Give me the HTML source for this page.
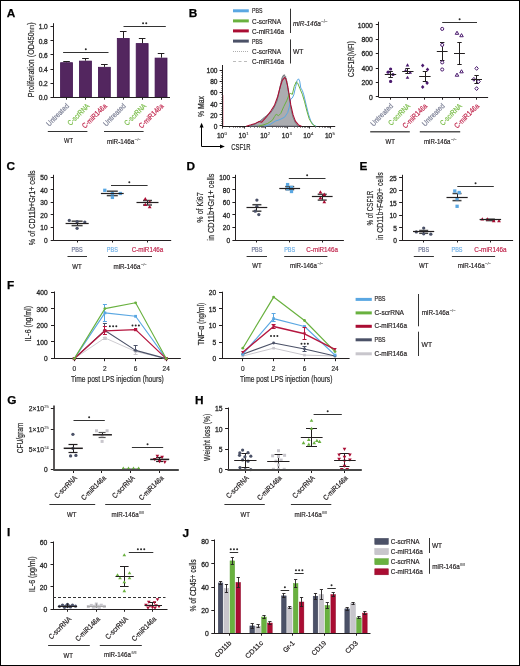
<!DOCTYPE html>
<html><head><meta charset="utf-8"><style>
html,body{margin:0;padding:0;background:#fff;}
#fig{position:relative;width:520px;height:666px;box-sizing:border-box;border:1px solid #000;overflow:hidden;background:#fff;}
svg{position:absolute;left:-1px;top:-1px;will-change:transform;}
text{font-family:"Liberation Sans", sans-serif;}
</style></head><body><div id="fig">
<svg width="520" height="666" viewBox="0 0 520 666" font-family="Liberation Sans, sans-serif">
<text x="6.71" y="16.9" font-size="11.8" fill="#000" font-weight="bold" stroke="#000" stroke-width="0.25">A</text>
<line x1="53.5" y1="23.2" x2="53.5" y2="97.5" stroke="#231f20" stroke-width="1" />
<line x1="50.5" y1="26.5" x2="53.5" y2="26.5" stroke="#231f20" stroke-width="1" />
<text x="47.8" y="29.38" font-size="6.6" fill="#2a2a2a" text-anchor="end" stroke="#2a2a2a" stroke-width="0.3" >1.0</text>
<line x1="50.5" y1="40.5" x2="53.5" y2="40.5" stroke="#231f20" stroke-width="1" />
<text x="47.8" y="43.58" font-size="6.6" fill="#2a2a2a" text-anchor="end" stroke="#2a2a2a" stroke-width="0.3" >0.8</text>
<line x1="50.5" y1="54.5" x2="53.5" y2="54.5" stroke="#231f20" stroke-width="1" />
<text x="47.8" y="57.78" font-size="6.6" fill="#2a2a2a" text-anchor="end" stroke="#2a2a2a" stroke-width="0.3" >0.6</text>
<line x1="50.5" y1="69.5" x2="53.5" y2="69.5" stroke="#231f20" stroke-width="1" />
<text x="47.8" y="71.98" font-size="6.6" fill="#2a2a2a" text-anchor="end" stroke="#2a2a2a" stroke-width="0.3" >0.4</text>
<line x1="50.5" y1="83.5" x2="53.5" y2="83.5" stroke="#231f20" stroke-width="1" />
<text x="47.8" y="86.18" font-size="6.6" fill="#2a2a2a" text-anchor="end" stroke="#2a2a2a" stroke-width="0.3" >0.2</text>
<line x1="50.5" y1="97.5" x2="53.5" y2="97.5" stroke="#231f20" stroke-width="1" />
<text x="47.8" y="100.38" font-size="6.6" fill="#2a2a2a" text-anchor="end" stroke="#2a2a2a" stroke-width="0.3" >0.0</text>
<text x="33.5" y="59.75" font-size="8.5" fill="#2a2a2a" text-anchor="middle" textLength="74.8" lengthAdjust="spacingAndGlyphs" transform="rotate(-90 33.5 59.75)" stroke="#2a2a2a" stroke-width="0.2" >Proliferation (OD450<tspan font-size="6.5" fill="#999">nm</tspan>)</text>
<rect x="60.6" y="62.7" width="11.9" height="34.5" fill="#53265f" stroke="#431552" stroke-width="0.8"/>
<line x1="66.5" y1="61.2" x2="66.5" y2="62.3" stroke="#231f20" stroke-width="1" />
<line x1="63.25" y1="61.5" x2="69.85" y2="61.5" stroke="#231f20" stroke-width="1" />
<rect x="79.5" y="61.1" width="11.9" height="36.1" fill="#53265f" stroke="#431552" stroke-width="0.8"/>
<line x1="85.5" y1="58.4" x2="85.5" y2="60.7" stroke="#231f20" stroke-width="1" />
<line x1="82.15" y1="58.5" x2="88.75" y2="58.5" stroke="#231f20" stroke-width="1" />
<rect x="98.4" y="67.3" width="11.9" height="29.9" fill="#53265f" stroke="#431552" stroke-width="0.8"/>
<line x1="104.5" y1="64.6" x2="104.5" y2="66.9" stroke="#231f20" stroke-width="1" />
<line x1="101.05" y1="64.5" x2="107.65" y2="64.5" stroke="#231f20" stroke-width="1" />
<rect x="117.3" y="38.5" width="11.9" height="58.7" fill="#53265f" stroke="#431552" stroke-width="0.8"/>
<line x1="123.5" y1="31.6" x2="123.5" y2="38.1" stroke="#231f20" stroke-width="1" />
<line x1="119.95" y1="31.5" x2="126.55" y2="31.5" stroke="#231f20" stroke-width="1" />
<rect x="136.2" y="43.6" width="11.9" height="53.6" fill="#53265f" stroke="#431552" stroke-width="0.8"/>
<line x1="142.5" y1="38.1" x2="142.5" y2="43.2" stroke="#231f20" stroke-width="1" />
<line x1="138.85" y1="38.5" x2="145.45" y2="38.5" stroke="#231f20" stroke-width="1" />
<rect x="155.1" y="58.1" width="11.9" height="39.1" fill="#53265f" stroke="#431552" stroke-width="0.8"/>
<line x1="161.5" y1="53.1" x2="161.5" y2="57.7" stroke="#231f20" stroke-width="1" />
<line x1="157.75" y1="53.5" x2="164.35" y2="53.5" stroke="#231f20" stroke-width="1" />
<line x1="53" y1="97.5" x2="170" y2="97.5" stroke="#231f20" stroke-width="1" />
<line x1="66.5" y1="97.2" x2="66.5" y2="99.7" stroke="#231f20" stroke-width="1" />
<line x1="85.5" y1="97.2" x2="85.5" y2="99.7" stroke="#231f20" stroke-width="1" />
<line x1="104.5" y1="97.2" x2="104.5" y2="99.7" stroke="#231f20" stroke-width="1" />
<line x1="123.5" y1="97.2" x2="123.5" y2="99.7" stroke="#231f20" stroke-width="1" />
<line x1="142.5" y1="97.2" x2="142.5" y2="99.7" stroke="#231f20" stroke-width="1" />
<line x1="161.5" y1="97.2" x2="161.5" y2="99.7" stroke="#231f20" stroke-width="1" />
<line x1="63.1" y1="52.5" x2="108.5" y2="52.5" stroke="#333" stroke-width="1" />
<circle cx="85.8" cy="49.2" r="1" fill="#2a2a2a"/>
<line x1="123.5" y1="26.5" x2="165.8" y2="26.5" stroke="#333" stroke-width="1" />
<circle cx="143.05" cy="23.2" r="1" fill="#2a2a2a"/>
<circle cx="146.25" cy="23.2" r="1" fill="#2a2a2a"/>
<text x="69.5" y="106.5" font-size="7.5" fill="#7d8196" text-anchor="end" textLength="28.5" lengthAdjust="spacingAndGlyphs" transform="rotate(-45 69.5 106.5)" stroke="#7d8196" stroke-width="0.2" >Untreated</text>
<text x="89.9" y="106.5" font-size="7.5" fill="#7abd4a" text-anchor="end" textLength="27.5" lengthAdjust="spacingAndGlyphs" transform="rotate(-45 89.9 106.5)" stroke="#7abd4a" stroke-width="0.2" >C-scrRNA</text>
<text x="107.4" y="106.5" font-size="7.5" fill="#c22a50" text-anchor="end" textLength="31.5" lengthAdjust="spacingAndGlyphs" transform="rotate(-45 107.4 106.5)" stroke="#c22a50" stroke-width="0.2" >C-miR146a</text>
<text x="126.3" y="106.5" font-size="7.5" fill="#7d8196" text-anchor="end" textLength="28.5" lengthAdjust="spacingAndGlyphs" transform="rotate(-45 126.3 106.5)" stroke="#7d8196" stroke-width="0.2" >Untreated</text>
<text x="146.7" y="106.5" font-size="7.5" fill="#7abd4a" text-anchor="end" textLength="27.5" lengthAdjust="spacingAndGlyphs" transform="rotate(-45 146.7 106.5)" stroke="#7abd4a" stroke-width="0.2" >C-scrRNA</text>
<text x="164.1" y="106.5" font-size="7.5" fill="#c22a50" text-anchor="end" textLength="31.5" lengthAdjust="spacingAndGlyphs" transform="rotate(-45 164.1 106.5)" stroke="#c22a50" stroke-width="0.2" >C-miR146a</text>
<line x1="47.8" y1="131.5" x2="87.4" y2="131.5" stroke="#333" stroke-width="1" />
<line x1="104" y1="131.5" x2="143.6" y2="131.5" stroke="#333" stroke-width="1" />
<text x="68.5" y="143.3" font-size="7.5" fill="#231f20" text-anchor="middle" textLength="9" lengthAdjust="spacingAndGlyphs" stroke="#231f20" stroke-width="0.2" >WT</text>
<text x="106.9" y="143.7" font-size="7.5" fill="#231f20" textLength="27.5" lengthAdjust="spacingAndGlyphs" stroke="#231f20" stroke-width="0.2" >miR-146a</text>
<text x="134.8" y="140.7" font-size="4" fill="#777" stroke="#777" stroke-width="0.2" >−/−</text>
<text x="188.71" y="17.2" font-size="11.8" fill="#000" font-weight="bold" stroke="#000" stroke-width="0.25">B</text>
<line x1="233" y1="10.8" x2="248.8" y2="10.8" stroke="#5aa7e2" stroke-width="3" />
<line x1="233" y1="20.9" x2="248.8" y2="20.9" stroke="#69b13f" stroke-width="3" />
<line x1="233" y1="30.9" x2="248.8" y2="30.9" stroke="#aa0d33" stroke-width="3" />
<line x1="233" y1="41.1" x2="248.8" y2="41.1" stroke="#4b5167" stroke-width="3" />
<line x1="233" y1="51.5" x2="248.8" y2="51.5" stroke="#999" stroke-width="0.8" stroke-dasharray="1,1"/>
<line x1="233" y1="61.5" x2="248.8" y2="61.5" stroke="#aaa" stroke-width="0.8" stroke-dasharray="3,2.5"/>
<text x="252" y="13.4" font-size="7.5" fill="#231f20" textLength="10.5" lengthAdjust="spacingAndGlyphs" stroke="#231f20" stroke-width="0.2" >PBS</text>
<text x="252" y="23.5" font-size="7.5" fill="#231f20" textLength="29" lengthAdjust="spacingAndGlyphs" stroke="#231f20" stroke-width="0.2" >C-scrRNA</text>
<text x="252" y="33.5" font-size="7.5" fill="#231f20" textLength="32" lengthAdjust="spacingAndGlyphs" stroke="#231f20" stroke-width="0.2" >C-miR146a</text>
<text x="252" y="43.7" font-size="7.5" fill="#231f20" textLength="10.5" lengthAdjust="spacingAndGlyphs" stroke="#231f20" stroke-width="0.2" >PBS</text>
<text x="252" y="53.8" font-size="7.5" fill="#231f20" textLength="29" lengthAdjust="spacingAndGlyphs" stroke="#231f20" stroke-width="0.2" >C-scrRNA</text>
<text x="252" y="63.8" font-size="7.5" fill="#231f20" textLength="32" lengthAdjust="spacingAndGlyphs" stroke="#231f20" stroke-width="0.2" >C-miR146a</text>
<line x1="290.5" y1="8.7" x2="290.5" y2="33" stroke="#333" stroke-width="1" />
<line x1="290.5" y1="39.4" x2="290.5" y2="63.5" stroke="#333" stroke-width="1" />
<text x="293" y="25.8" font-size="7.5" fill="#231f20" textLength="27.8" lengthAdjust="spacingAndGlyphs" font-style="italic" stroke="#231f20" stroke-width="0.2" >miR-146a</text>
<text x="321.2" y="22.8" font-size="4.5" fill="#777" stroke="#777" stroke-width="0.2" >−/−</text>
<text x="293" y="53.6" font-size="7.5" fill="#231f20" textLength="10.5" lengthAdjust="spacingAndGlyphs" stroke="#231f20" stroke-width="0.2" >WT</text>
<line x1="222.5" y1="65" x2="222.5" y2="126.3" stroke="#231f20" stroke-width="1" />
<line x1="219.6" y1="70.5" x2="222.6" y2="70.5" stroke="#231f20" stroke-width="1" />
<text x="217.5" y="73.48" font-size="6.6" fill="#2a2a2a" text-anchor="end" stroke="#2a2a2a" stroke-width="0.3" >100</text>
<line x1="219.6" y1="81.5" x2="222.6" y2="81.5" stroke="#231f20" stroke-width="1" />
<text x="217.5" y="84.38" font-size="6.6" fill="#2a2a2a" text-anchor="end" stroke="#2a2a2a" stroke-width="0.3" >80</text>
<line x1="219.6" y1="92.5" x2="222.6" y2="92.5" stroke="#231f20" stroke-width="1" />
<text x="217.5" y="95.48" font-size="6.6" fill="#2a2a2a" text-anchor="end" stroke="#2a2a2a" stroke-width="0.3" >60</text>
<line x1="219.6" y1="103.5" x2="222.6" y2="103.5" stroke="#231f20" stroke-width="1" />
<text x="217.5" y="106.68" font-size="6.6" fill="#2a2a2a" text-anchor="end" stroke="#2a2a2a" stroke-width="0.3" >40</text>
<line x1="219.6" y1="114.5" x2="222.6" y2="114.5" stroke="#231f20" stroke-width="1" />
<text x="217.5" y="117.78" font-size="6.6" fill="#2a2a2a" text-anchor="end" stroke="#2a2a2a" stroke-width="0.3" >20</text>
<line x1="219.6" y1="125.5" x2="222.6" y2="125.5" stroke="#231f20" stroke-width="1" />
<text x="217.5" y="128.78" font-size="6.6" fill="#2a2a2a" text-anchor="end" stroke="#2a2a2a" stroke-width="0.3" >0</text>
<line x1="221.2" y1="125.5" x2="222.6" y2="125.5" stroke="#231f20" stroke-width="0.6" />
<line x1="221.2" y1="123.5" x2="222.6" y2="123.5" stroke="#231f20" stroke-width="0.6" />
<line x1="221.2" y1="121.5" x2="222.6" y2="121.5" stroke="#231f20" stroke-width="0.6" />
<line x1="221.2" y1="119.5" x2="222.6" y2="119.5" stroke="#231f20" stroke-width="0.6" />
<line x1="221.2" y1="117.5" x2="222.6" y2="117.5" stroke="#231f20" stroke-width="0.6" />
<line x1="221.2" y1="114.5" x2="222.6" y2="114.5" stroke="#231f20" stroke-width="0.6" />
<line x1="221.2" y1="112.5" x2="222.6" y2="112.5" stroke="#231f20" stroke-width="0.6" />
<line x1="221.2" y1="110.5" x2="222.6" y2="110.5" stroke="#231f20" stroke-width="0.6" />
<line x1="221.2" y1="108.5" x2="222.6" y2="108.5" stroke="#231f20" stroke-width="0.6" />
<line x1="221.2" y1="106.5" x2="222.6" y2="106.5" stroke="#231f20" stroke-width="0.6" />
<line x1="221.2" y1="103.5" x2="222.6" y2="103.5" stroke="#231f20" stroke-width="0.6" />
<line x1="221.2" y1="101.5" x2="222.6" y2="101.5" stroke="#231f20" stroke-width="0.6" />
<line x1="221.2" y1="99.5" x2="222.6" y2="99.5" stroke="#231f20" stroke-width="0.6" />
<line x1="221.2" y1="97.5" x2="222.6" y2="97.5" stroke="#231f20" stroke-width="0.6" />
<line x1="221.2" y1="94.5" x2="222.6" y2="94.5" stroke="#231f20" stroke-width="0.6" />
<line x1="221.2" y1="92.5" x2="222.6" y2="92.5" stroke="#231f20" stroke-width="0.6" />
<line x1="221.2" y1="90.5" x2="222.6" y2="90.5" stroke="#231f20" stroke-width="0.6" />
<line x1="221.2" y1="88.5" x2="222.6" y2="88.5" stroke="#231f20" stroke-width="0.6" />
<line x1="221.2" y1="86.5" x2="222.6" y2="86.5" stroke="#231f20" stroke-width="0.6" />
<line x1="221.2" y1="83.5" x2="222.6" y2="83.5" stroke="#231f20" stroke-width="0.6" />
<line x1="221.2" y1="81.5" x2="222.6" y2="81.5" stroke="#231f20" stroke-width="0.6" />
<line x1="221.2" y1="79.5" x2="222.6" y2="79.5" stroke="#231f20" stroke-width="0.6" />
<line x1="221.2" y1="77.5" x2="222.6" y2="77.5" stroke="#231f20" stroke-width="0.6" />
<line x1="221.2" y1="75.5" x2="222.6" y2="75.5" stroke="#231f20" stroke-width="0.6" />
<line x1="221.2" y1="72.5" x2="222.6" y2="72.5" stroke="#231f20" stroke-width="0.6" />
<line x1="221.2" y1="70.5" x2="222.6" y2="70.5" stroke="#231f20" stroke-width="0.6" />
<line x1="222" y1="126.5" x2="335.2" y2="126.5" stroke="#231f20" stroke-width="1" />
<line x1="222.5" y1="126.3" x2="222.5" y2="128.6" stroke="#231f20" stroke-width="0.9" />
<text x="224.3" y="137.6" font-size="6.6" fill="#2a2a2a" text-anchor="end" stroke="#2a2a2a" stroke-width="0.3" >10</text>
<text x="224.6" y="134.6" font-size="4.2" fill="#444" stroke="#444" stroke-width="0.15" >0</text>
<line x1="229.5" y1="126.3" x2="229.5" y2="127.8" stroke="#231f20" stroke-width="0.6" />
<line x1="233.5" y1="126.3" x2="233.5" y2="127.8" stroke="#231f20" stroke-width="0.6" />
<line x1="235.5" y1="126.3" x2="235.5" y2="127.8" stroke="#231f20" stroke-width="0.6" />
<line x1="237.5" y1="126.3" x2="237.5" y2="127.8" stroke="#231f20" stroke-width="0.6" />
<line x1="239.5" y1="126.3" x2="239.5" y2="127.8" stroke="#231f20" stroke-width="0.6" />
<line x1="240.5" y1="126.3" x2="240.5" y2="127.8" stroke="#231f20" stroke-width="0.6" />
<line x1="242.5" y1="126.3" x2="242.5" y2="127.8" stroke="#231f20" stroke-width="0.6" />
<line x1="243.5" y1="126.3" x2="243.5" y2="127.8" stroke="#231f20" stroke-width="0.6" />
<line x1="244.5" y1="126.3" x2="244.5" y2="128.6" stroke="#231f20" stroke-width="0.9" />
<text x="245.9" y="137.6" font-size="6.6" fill="#2a2a2a" text-anchor="end" stroke="#2a2a2a" stroke-width="0.3" >10</text>
<text x="246.2" y="134.6" font-size="4.2" fill="#444" stroke="#444" stroke-width="0.15" >1</text>
<line x1="250.5" y1="126.3" x2="250.5" y2="127.8" stroke="#231f20" stroke-width="0.6" />
<line x1="254.5" y1="126.3" x2="254.5" y2="127.8" stroke="#231f20" stroke-width="0.6" />
<line x1="257.5" y1="126.3" x2="257.5" y2="127.8" stroke="#231f20" stroke-width="0.6" />
<line x1="259.5" y1="126.3" x2="259.5" y2="127.8" stroke="#231f20" stroke-width="0.6" />
<line x1="261.5" y1="126.3" x2="261.5" y2="127.8" stroke="#231f20" stroke-width="0.6" />
<line x1="262.5" y1="126.3" x2="262.5" y2="127.8" stroke="#231f20" stroke-width="0.6" />
<line x1="263.5" y1="126.3" x2="263.5" y2="127.8" stroke="#231f20" stroke-width="0.6" />
<line x1="264.5" y1="126.3" x2="264.5" y2="127.8" stroke="#231f20" stroke-width="0.6" />
<line x1="265.5" y1="126.3" x2="265.5" y2="128.6" stroke="#231f20" stroke-width="0.9" />
<text x="267.5" y="137.6" font-size="6.6" fill="#2a2a2a" text-anchor="end" stroke="#2a2a2a" stroke-width="0.3" >10</text>
<text x="267.8" y="134.6" font-size="4.2" fill="#444" stroke="#444" stroke-width="0.15" >2</text>
<line x1="272.5" y1="126.3" x2="272.5" y2="127.8" stroke="#231f20" stroke-width="0.6" />
<line x1="276.5" y1="126.3" x2="276.5" y2="127.8" stroke="#231f20" stroke-width="0.6" />
<line x1="278.5" y1="126.3" x2="278.5" y2="127.8" stroke="#231f20" stroke-width="0.6" />
<line x1="280.5" y1="126.3" x2="280.5" y2="127.8" stroke="#231f20" stroke-width="0.6" />
<line x1="282.5" y1="126.3" x2="282.5" y2="127.8" stroke="#231f20" stroke-width="0.6" />
<line x1="284.5" y1="126.3" x2="284.5" y2="127.8" stroke="#231f20" stroke-width="0.6" />
<line x1="285.5" y1="126.3" x2="285.5" y2="127.8" stroke="#231f20" stroke-width="0.6" />
<line x1="286.5" y1="126.3" x2="286.5" y2="127.8" stroke="#231f20" stroke-width="0.6" />
<line x1="287.5" y1="126.3" x2="287.5" y2="128.6" stroke="#231f20" stroke-width="0.9" />
<text x="289.1" y="137.6" font-size="6.6" fill="#2a2a2a" text-anchor="end" stroke="#2a2a2a" stroke-width="0.3" >10</text>
<text x="289.4" y="134.6" font-size="4.2" fill="#444" stroke="#444" stroke-width="0.15" >3</text>
<line x1="294.5" y1="126.3" x2="294.5" y2="127.8" stroke="#231f20" stroke-width="0.6" />
<line x1="297.5" y1="126.3" x2="297.5" y2="127.8" stroke="#231f20" stroke-width="0.6" />
<line x1="300.5" y1="126.3" x2="300.5" y2="127.8" stroke="#231f20" stroke-width="0.6" />
<line x1="302.5" y1="126.3" x2="302.5" y2="127.8" stroke="#231f20" stroke-width="0.6" />
<line x1="304.5" y1="126.3" x2="304.5" y2="127.8" stroke="#231f20" stroke-width="0.6" />
<line x1="305.5" y1="126.3" x2="305.5" y2="127.8" stroke="#231f20" stroke-width="0.6" />
<line x1="307.5" y1="126.3" x2="307.5" y2="127.8" stroke="#231f20" stroke-width="0.6" />
<line x1="308.5" y1="126.3" x2="308.5" y2="127.8" stroke="#231f20" stroke-width="0.6" />
<line x1="309.5" y1="126.3" x2="309.5" y2="128.6" stroke="#231f20" stroke-width="0.9" />
<text x="310.7" y="137.6" font-size="6.6" fill="#2a2a2a" text-anchor="end" stroke="#2a2a2a" stroke-width="0.3" >10</text>
<text x="311" y="134.6" font-size="4.2" fill="#444" stroke="#444" stroke-width="0.15" >4</text>
<line x1="315.5" y1="126.3" x2="315.5" y2="127.8" stroke="#231f20" stroke-width="0.6" />
<line x1="319.5" y1="126.3" x2="319.5" y2="127.8" stroke="#231f20" stroke-width="0.6" />
<line x1="322.5" y1="126.3" x2="322.5" y2="127.8" stroke="#231f20" stroke-width="0.6" />
<line x1="324.5" y1="126.3" x2="324.5" y2="127.8" stroke="#231f20" stroke-width="0.6" />
<line x1="325.5" y1="126.3" x2="325.5" y2="127.8" stroke="#231f20" stroke-width="0.6" />
<line x1="327.5" y1="126.3" x2="327.5" y2="127.8" stroke="#231f20" stroke-width="0.6" />
<line x1="328.5" y1="126.3" x2="328.5" y2="127.8" stroke="#231f20" stroke-width="0.6" />
<line x1="329.5" y1="126.3" x2="329.5" y2="127.8" stroke="#231f20" stroke-width="0.6" />
<line x1="330.5" y1="126.3" x2="330.5" y2="128.6" stroke="#231f20" stroke-width="0.9" />
<text x="332.3" y="137.6" font-size="6.6" fill="#2a2a2a" text-anchor="end" stroke="#2a2a2a" stroke-width="0.3" >10</text>
<text x="332.6" y="134.6" font-size="4.2" fill="#444" stroke="#444" stroke-width="0.15" >5</text>
<text x="203.8" y="106.45" font-size="8.5" fill="#2a2a2a" text-anchor="middle" textLength="21" lengthAdjust="spacingAndGlyphs" transform="rotate(-90 203.8 106.45)" stroke="#2a2a2a" stroke-width="0.2" >% Max</text>
<line x1="201.5" y1="146.5" x2="201.5" y2="126.5" stroke="#000" stroke-width="1" />
<polygon points="201.6,122.8 199.6,127.6 203.6,127.6" fill="#000"/>
<line x1="201.6" y1="146.5" x2="221" y2="146.5" stroke="#000" stroke-width="1" />
<polygon points="224.8,146.5 220,144.5 220,148.5" fill="#000"/>
<text x="231.2" y="149.6" font-size="8.5" fill="#2a2a2a" textLength="19.4" lengthAdjust="spacingAndGlyphs" stroke="#2a2a2a" stroke-width="0.2" >CSF1R</text>
<path d="M249.2,126.2 L255,124 L260,121.1 L264.6,117.2 L270.8,112.6 L273.8,108 L276.9,101.1 L279.2,91.1 L280.8,83.4 L282.3,77.2 L283.8,74.9 L285.4,76.5 L286.9,81.8 L288.5,92.6 L290,103.4 L291.5,111.1 L293.1,117.2 L295.4,122.6 L298.5,126.2 Z" fill="#abacb0" stroke="#555a66" stroke-width="0.8" stroke-linejoin="round"/>
<polyline points="250,126.2 256,123.5 261,120.5 266,116 271,111.5 274.5,106 277.5,99 279.8,89 281.5,80 283,75.5 284.8,74.5 286.2,77.5 287.6,85 289.2,97 290.8,107.5 292.5,115 294.5,121 297.5,126.2" stroke="#888" stroke-width="0.7" fill="none" stroke-linejoin="round" stroke-dasharray="1.5,1"/>
<polyline points="264.6,126.2 270,124.5 275.4,121.1 280,119.5 284.6,117.2 287.7,112.6 289.2,107.2 290.8,98.8 292.3,98 293.8,94.9 295.7,86.5 297.2,80.3 298.5,78.8 299.7,81.1 300.8,88 302.3,90.3 303.8,94.9 306.2,104.9 308.5,114.2 310.8,121.1 313.8,125.2 316.2,126.2" stroke="#5aa7e2" stroke-width="1" fill="none" stroke-linejoin="round" />
<polyline points="258.5,126.2 263,125 267.7,123.4 272.3,120.3 274.6,116.5 276.2,114.2 278.5,115.7 280.8,113.4 283.8,106.5 286.9,100.3 289.2,94.2 290.8,93.4 292.3,94.5 294.2,86.5 296.2,81.8 297.7,83.1 300,88.8 302.3,94.2 304.6,101.8 306.9,111.1 309.2,118.8 312.3,124.2 315.4,126.2" stroke="#69b13f" stroke-width="1" fill="none" stroke-linejoin="round" />
<polyline points="246.2,126.2 251,124.8 255.4,123.4 259.2,121.5 261.5,122.3 266.2,117.2 270.8,111.1 274.6,104.9 277.7,96.5 280.3,86.5 282.3,80.3 284.6,77.5 285.8,78.8 287.4,84.9 289.2,94.9 290.8,104.9 293.1,114.9 295.4,121.1 298.5,124.9 301.5,126.2" stroke="#aa0d33" stroke-width="1.05" fill="none" stroke-linejoin="round" />
<line x1="223.5" y1="126" x2="223.5" y2="95" stroke="#eeb5c0" stroke-width="0.8" />
<line x1="378.5" y1="21.7" x2="378.5" y2="97" stroke="#231f20" stroke-width="1" />
<line x1="375.8" y1="24.5" x2="378.8" y2="24.5" stroke="#231f20" stroke-width="1" />
<text x="372.8" y="27.55" font-size="6.82" fill="#2a2a2a" text-anchor="end" stroke="#2a2a2a" stroke-width="0.3" >1000</text>
<line x1="375.8" y1="39.5" x2="378.8" y2="39.5" stroke="#231f20" stroke-width="1" />
<text x="372.8" y="41.95" font-size="6.82" fill="#2a2a2a" text-anchor="end" stroke="#2a2a2a" stroke-width="0.3" >800</text>
<line x1="375.8" y1="53.5" x2="378.8" y2="53.5" stroke="#231f20" stroke-width="1" />
<text x="372.8" y="56.45" font-size="6.82" fill="#2a2a2a" text-anchor="end" stroke="#2a2a2a" stroke-width="0.3" >600</text>
<line x1="375.8" y1="68.5" x2="378.8" y2="68.5" stroke="#231f20" stroke-width="1" />
<text x="372.8" y="71.05" font-size="6.82" fill="#2a2a2a" text-anchor="end" stroke="#2a2a2a" stroke-width="0.3" >400</text>
<line x1="375.8" y1="82.5" x2="378.8" y2="82.5" stroke="#231f20" stroke-width="1" />
<text x="372.8" y="85.45" font-size="6.82" fill="#2a2a2a" text-anchor="end" stroke="#2a2a2a" stroke-width="0.3" >200</text>
<line x1="375.8" y1="96.5" x2="378.8" y2="96.5" stroke="#231f20" stroke-width="1" />
<text x="372.8" y="99.75" font-size="6.82" fill="#2a2a2a" text-anchor="end" stroke="#2a2a2a" stroke-width="0.3" >0</text>
<text x="353.6" y="59.15" font-size="8.5" fill="#2a2a2a" text-anchor="middle" textLength="35.8" lengthAdjust="spacingAndGlyphs" transform="rotate(-90 353.6 59.15)" stroke="#2a2a2a" stroke-width="0.2" >CSF1R(MFI)</text>
<line x1="378.5" y1="97.5" x2="488.1" y2="97.5" stroke="#231f20" stroke-width="1" />
<line x1="390.5" y1="97.2" x2="390.5" y2="99.7" stroke="#231f20" stroke-width="1" />
<line x1="407.5" y1="97.2" x2="407.5" y2="99.7" stroke="#231f20" stroke-width="1" />
<line x1="424.5" y1="97.2" x2="424.5" y2="99.7" stroke="#231f20" stroke-width="1" />
<line x1="442.5" y1="97.2" x2="442.5" y2="99.7" stroke="#231f20" stroke-width="1" />
<line x1="459.5" y1="97.2" x2="459.5" y2="99.7" stroke="#231f20" stroke-width="1" />
<line x1="476.5" y1="97.2" x2="476.5" y2="99.7" stroke="#231f20" stroke-width="1" />
<line x1="390.5" y1="71.7" x2="390.5" y2="77.1" stroke="#231f20" stroke-width="1" />
<line x1="388.35" y1="71.5" x2="392.85" y2="71.5" stroke="#231f20" stroke-width="1" />
<line x1="388.35" y1="77.5" x2="392.85" y2="77.5" stroke="#231f20" stroke-width="1" />
<circle cx="390.6" cy="69" r="1.6" fill="#4b1a6e" stroke="none" stroke-width="0"/>
<circle cx="388.1" cy="72.2" r="1.6" fill="#4b1a6e" stroke="none" stroke-width="0"/>
<circle cx="393" cy="74.5" r="1.6" fill="#4b1a6e" stroke="none" stroke-width="0"/>
<circle cx="390.6" cy="81.4" r="1.6" fill="#4b1a6e" stroke="none" stroke-width="0"/>
<line x1="384.8" y1="74.5" x2="396.2" y2="74.5" stroke="#231f20" stroke-width="1" />
<line x1="407.5" y1="68.5" x2="407.5" y2="73.7" stroke="#231f20" stroke-width="1" />
<line x1="405.35" y1="68.5" x2="409.85" y2="68.5" stroke="#231f20" stroke-width="1" />
<line x1="405.35" y1="73.5" x2="409.85" y2="73.5" stroke="#231f20" stroke-width="1" />
<polygon points="407.5,63.36 409.34,66.56 405.66,66.56" fill="#4b1a6e" stroke="none" stroke-width="0"/>
<polygon points="405.6,68.66 407.44,71.86 403.76,71.86" fill="#4b1a6e" stroke="none" stroke-width="0"/>
<polygon points="410.2,70.66 412.04,73.86 408.36,73.86" fill="#4b1a6e" stroke="none" stroke-width="0"/>
<polygon points="407.5,75.66 409.34,78.86 405.66,78.86" fill="#4b1a6e" stroke="none" stroke-width="0"/>
<line x1="402.2" y1="71.5" x2="413.5" y2="71.5" stroke="#231f20" stroke-width="1" />
<line x1="425.5" y1="71.3" x2="425.5" y2="81.4" stroke="#231f20" stroke-width="1" />
<line x1="422.75" y1="71.5" x2="427.25" y2="71.5" stroke="#231f20" stroke-width="1" />
<line x1="422.75" y1="81.5" x2="427.25" y2="81.5" stroke="#231f20" stroke-width="1" />
<polygon points="422.7,63.6 424.46,65.6 422.7,67.6 420.94,65.6" fill="#4b1a6e" stroke="none" stroke-width="0"/>
<polygon points="427.5,67.6 429.26,69.6 427.5,71.6 425.74,69.6" fill="#4b1a6e" stroke="none" stroke-width="0"/>
<polygon points="427.1,81.1 428.86,83.1 427.1,85.1 425.34,83.1" fill="#4b1a6e" stroke="none" stroke-width="0"/>
<polygon points="422.7,84.9 424.46,86.9 422.7,88.9 420.94,86.9" fill="#4b1a6e" stroke="none" stroke-width="0"/>
<line x1="419.2" y1="76.5" x2="430.6" y2="76.5" stroke="#231f20" stroke-width="1" />
<line x1="442.5" y1="42.4" x2="442.5" y2="60.7" stroke="#231f20" stroke-width="1" />
<line x1="440" y1="42.5" x2="444.4" y2="42.5" stroke="#231f20" stroke-width="1" />
<line x1="440" y1="60.5" x2="444.4" y2="60.5" stroke="#231f20" stroke-width="1" />
<circle cx="442.2" cy="28.9" r="1.55" fill="#fff" stroke="#4b1a6e" stroke-width="1"/>
<circle cx="442.2" cy="44.9" r="1.55" fill="#fff" stroke="#4b1a6e" stroke-width="1"/>
<circle cx="442.2" cy="62.4" r="1.55" fill="#fff" stroke="#4b1a6e" stroke-width="1"/>
<circle cx="442.2" cy="69.5" r="1.55" fill="#fff" stroke="#4b1a6e" stroke-width="1"/>
<line x1="436.8" y1="51.5" x2="447.6" y2="51.5" stroke="#231f20" stroke-width="1" />
<line x1="459.5" y1="42.2" x2="459.5" y2="64.5" stroke="#231f20" stroke-width="1" />
<line x1="457.3" y1="42.5" x2="461.7" y2="42.5" stroke="#231f20" stroke-width="1" />
<line x1="457.3" y1="64.5" x2="461.7" y2="64.5" stroke="#231f20" stroke-width="1" />
<polygon points="457,31.22 458.78,34.32 455.22,34.32" fill="#fff" stroke="#4b1a6e" stroke-width="1"/>
<polygon points="461.5,33.62 463.28,36.72 459.72,36.72" fill="#fff" stroke="#4b1a6e" stroke-width="1"/>
<polygon points="461.5,69.72 463.28,72.82 459.72,72.82" fill="#fff" stroke="#4b1a6e" stroke-width="1"/>
<polygon points="457,73.12 458.78,76.22 455.22,76.22" fill="#fff" stroke="#4b1a6e" stroke-width="1"/>
<line x1="454" y1="53.5" x2="464.9" y2="53.5" stroke="#231f20" stroke-width="1" />
<line x1="476.5" y1="75.5" x2="476.5" y2="83.6" stroke="#231f20" stroke-width="1" />
<line x1="474.4" y1="75.5" x2="478.8" y2="75.5" stroke="#231f20" stroke-width="1" />
<line x1="474.4" y1="83.5" x2="478.8" y2="83.5" stroke="#231f20" stroke-width="1" />
<polygon points="476.6,66.46 478.31,68.4 476.6,70.34 474.9,68.4" fill="#fff" stroke="#4b1a6e" stroke-width="1"/>
<polygon points="473.9,77.36 475.6,79.3 473.9,81.24 472.19,79.3" fill="#fff" stroke="#4b1a6e" stroke-width="1"/>
<polygon points="478.6,79.66 480.31,81.6 478.6,83.54 476.9,81.6" fill="#fff" stroke="#4b1a6e" stroke-width="1"/>
<polygon points="476.6,86.66 478.31,88.6 476.6,90.54 474.9,88.6" fill="#fff" stroke="#4b1a6e" stroke-width="1"/>
<line x1="471.2" y1="79.5" x2="482" y2="79.5" stroke="#231f20" stroke-width="1" />
<line x1="442.2" y1="22.5" x2="477" y2="22.5" stroke="#333" stroke-width="1" />
<circle cx="459.6" cy="19.2" r="1" fill="#2a2a2a"/>
<text x="393.6" y="106.5" font-size="7.5" fill="#7d8196" text-anchor="end" textLength="28.5" lengthAdjust="spacingAndGlyphs" transform="rotate(-45 393.6 106.5)" stroke="#7d8196" stroke-width="0.2" >Untreated</text>
<text x="410.6" y="106.5" font-size="7.5" fill="#7abd4a" text-anchor="end" textLength="27.5" lengthAdjust="spacingAndGlyphs" transform="rotate(-45 410.6 106.5)" stroke="#7abd4a" stroke-width="0.2" >C-scrRNA</text>
<text x="427.8" y="106.5" font-size="7.5" fill="#c22a50" text-anchor="end" textLength="31.5" lengthAdjust="spacingAndGlyphs" transform="rotate(-45 427.8 106.5)" stroke="#c22a50" stroke-width="0.2" >C-miR146a</text>
<text x="445.2" y="106.5" font-size="7.5" fill="#7d8196" text-anchor="end" textLength="28.5" lengthAdjust="spacingAndGlyphs" transform="rotate(-45 445.2 106.5)" stroke="#7d8196" stroke-width="0.2" >Untreated</text>
<text x="462.5" y="106.5" font-size="7.5" fill="#7abd4a" text-anchor="end" textLength="27.5" lengthAdjust="spacingAndGlyphs" transform="rotate(-45 462.5 106.5)" stroke="#7abd4a" stroke-width="0.2" >C-scrRNA</text>
<text x="479.6" y="106.5" font-size="7.5" fill="#c22a50" text-anchor="end" textLength="31.5" lengthAdjust="spacingAndGlyphs" transform="rotate(-45 479.6 106.5)" stroke="#c22a50" stroke-width="0.2" >C-miR146a</text>
<line x1="370.2" y1="131.7" x2="409.8" y2="131.7" stroke="#555" stroke-width="1.5" />
<line x1="419.8" y1="131.7" x2="460.2" y2="131.7" stroke="#555" stroke-width="1.5" />
<text x="390.3" y="143.6" font-size="7" fill="#231f20" text-anchor="middle" textLength="9.4" lengthAdjust="spacingAndGlyphs" stroke="#231f20" stroke-width="0.2" >WT</text>
<text x="424" y="143.9" font-size="7.5" fill="#231f20" textLength="26.5" lengthAdjust="spacingAndGlyphs" stroke="#231f20" stroke-width="0.2" >miR-146a</text>
<text x="450.9" y="140.9" font-size="4" fill="#777" stroke="#777" stroke-width="0.2" >−/−</text>
<text x="6.52" y="170.2" font-size="11.8" fill="#000" font-weight="bold" stroke="#000" stroke-width="0.25">C</text>
<line x1="53.5" y1="174.8" x2="53.5" y2="240.1" stroke="#231f20" stroke-width="1" />
<line x1="50.7" y1="240.5" x2="53.7" y2="240.5" stroke="#231f20" stroke-width="1" />
<text x="47.6" y="242.98" font-size="6.6" fill="#2a2a2a" text-anchor="end" stroke="#2a2a2a" stroke-width="0.3" >0</text>
<line x1="50.7" y1="227.5" x2="53.7" y2="227.5" stroke="#231f20" stroke-width="1" />
<text x="47.6" y="230.42" font-size="6.6" fill="#2a2a2a" text-anchor="end" stroke="#2a2a2a" stroke-width="0.3" >10</text>
<line x1="50.7" y1="214.5" x2="53.7" y2="214.5" stroke="#231f20" stroke-width="1" />
<text x="47.6" y="217.86" font-size="6.6" fill="#2a2a2a" text-anchor="end" stroke="#2a2a2a" stroke-width="0.3" >20</text>
<line x1="50.7" y1="202.5" x2="53.7" y2="202.5" stroke="#231f20" stroke-width="1" />
<text x="47.6" y="205.3" font-size="6.6" fill="#2a2a2a" text-anchor="end" stroke="#2a2a2a" stroke-width="0.3" >30</text>
<line x1="50.7" y1="189.5" x2="53.7" y2="189.5" stroke="#231f20" stroke-width="1" />
<text x="47.6" y="192.74" font-size="6.6" fill="#2a2a2a" text-anchor="end" stroke="#2a2a2a" stroke-width="0.3" >40</text>
<line x1="50.7" y1="177.5" x2="53.7" y2="177.5" stroke="#231f20" stroke-width="1" />
<text x="47.6" y="180.18" font-size="6.6" fill="#2a2a2a" text-anchor="end" stroke="#2a2a2a" stroke-width="0.3" >50</text>
<text x="35.2" y="207.75" font-size="8.8" fill="#2a2a2a" text-anchor="middle" textLength="74.8" lengthAdjust="spacingAndGlyphs" transform="rotate(-90 35.2 207.75)" stroke="#2a2a2a" stroke-width="0.2" >% of CD11b+Gr1+ cells</text>
<line x1="77.5" y1="221.2" x2="77.5" y2="225.6" stroke="#231f20" stroke-width="1" />
<line x1="71.6" y1="221.2" x2="82.6" y2="221.2" stroke="#444" stroke-width="1.5" />
<line x1="71.6" y1="225.6" x2="82.6" y2="225.6" stroke="#444" stroke-width="1.5" />
<circle cx="69.3" cy="220.4" r="1.65" fill="#4b5167" stroke="none" stroke-width="0"/>
<circle cx="77.1" cy="221.7" r="1.65" fill="#4b5167" stroke="none" stroke-width="0"/>
<circle cx="84.8" cy="222.1" r="1.65" fill="#4b5167" stroke="none" stroke-width="0"/>
<circle cx="77.1" cy="228.3" r="1.65" fill="#4b5167" stroke="none" stroke-width="0"/>
<line x1="65.6" y1="223.5" x2="88.7" y2="223.5" stroke="#231f20" stroke-width="1.2" />
<line x1="112.5" y1="191.2" x2="112.5" y2="195.6" stroke="#231f20" stroke-width="1" />
<line x1="106.8" y1="191.2" x2="117.8" y2="191.2" stroke="#444" stroke-width="1.5" />
<line x1="106.8" y1="195.6" x2="117.8" y2="195.6" stroke="#444" stroke-width="1.5" />
<rect x="103.15" y="188.65" width="3.3" height="3.3" fill="#5aa7e2" stroke="none" stroke-width="0"/>
<rect x="110.75" y="192.05" width="3.3" height="3.3" fill="#5aa7e2" stroke="none" stroke-width="0"/>
<rect x="118.65" y="191.85" width="3.3" height="3.3" fill="#5aa7e2" stroke="none" stroke-width="0"/>
<rect x="110.75" y="195.75" width="3.3" height="3.3" fill="#5aa7e2" stroke="none" stroke-width="0"/>
<line x1="100.9" y1="193.5" x2="123.7" y2="193.5" stroke="#231f20" stroke-width="1.2" />
<line x1="147.5" y1="200.5" x2="147.5" y2="205" stroke="#231f20" stroke-width="1" />
<line x1="143" y1="200.5" x2="152" y2="200.5" stroke="#444" stroke-width="1.5" />
<line x1="143" y1="205" x2="152" y2="205" stroke="#444" stroke-width="1.5" />
<polygon points="145.3,196.9 147.2,200.2 143.4,200.2" fill="#aa0d33" stroke="none" stroke-width="0"/>
<polygon points="149.7,199.9 151.6,203.2 147.8,203.2" fill="#aa0d33" stroke="none" stroke-width="0"/>
<polygon points="145.3,202.7 147.2,206 143.4,206" fill="#aa0d33" stroke="none" stroke-width="0"/>
<polygon points="149.7,205 151.6,208.3 147.8,208.3" fill="#aa0d33" stroke="none" stroke-width="0"/>
<line x1="136.5" y1="202.5" x2="158.5" y2="202.5" stroke="#231f20" stroke-width="1.2" />
<line x1="111" y1="185.5" x2="147.6" y2="185.5" stroke="#333" stroke-width="1" />
<circle cx="129.3" cy="182.2" r="1" fill="#2a2a2a"/>
<line x1="53.2" y1="240.5" x2="171.2" y2="240.5" stroke="#231f20" stroke-width="1" />
<line x1="77.5" y1="240" x2="77.5" y2="242.5" stroke="#231f20" stroke-width="1" />
<line x1="112.5" y1="240" x2="112.5" y2="242.5" stroke="#231f20" stroke-width="1" />
<line x1="147.5" y1="240" x2="147.5" y2="242.5" stroke="#231f20" stroke-width="1" />
<text x="77.1" y="251.9" font-size="7" fill="#6a7392" text-anchor="middle" textLength="11" lengthAdjust="spacingAndGlyphs" stroke="#6a7392" stroke-width="0.2" >PBS</text>
<text x="112.3" y="251.9" font-size="7" fill="#6eafe6" text-anchor="middle" textLength="11" lengthAdjust="spacingAndGlyphs" stroke="#6eafe6" stroke-width="0.2" >PBS</text>
<text x="147.5" y="251.9" font-size="7" fill="#c22a50" text-anchor="middle" textLength="31.7" lengthAdjust="spacingAndGlyphs" stroke="#c22a50" stroke-width="0.2" >C-miR146a</text>
<line x1="67.5" y1="256.5" x2="87" y2="256.5" stroke="#333" stroke-width="1" />
<line x1="108" y1="256.5" x2="152" y2="256.5" stroke="#333" stroke-width="1" />
<text x="77" y="268.6" font-size="7" fill="#231f20" text-anchor="middle" textLength="9.4" lengthAdjust="spacingAndGlyphs" stroke="#231f20" stroke-width="0.2" >WT</text>
<text x="113.5" y="268.6" font-size="7.5" fill="#231f20" textLength="27" lengthAdjust="spacingAndGlyphs" stroke="#231f20" stroke-width="0.2" >miR-146a</text>
<text x="140.9" y="265.6" font-size="4" fill="#777" stroke="#777" stroke-width="0.2" >−/−</text>
<text x="186.61" y="170" font-size="11.8" fill="#000" font-weight="bold" stroke="#000" stroke-width="0.25">D</text>
<line x1="235.5" y1="174.8" x2="235.5" y2="240.1" stroke="#231f20" stroke-width="1" />
<line x1="232.4" y1="240.5" x2="235.4" y2="240.5" stroke="#231f20" stroke-width="1" />
<text x="230.2" y="242.98" font-size="6.6" fill="#2a2a2a" text-anchor="end" stroke="#2a2a2a" stroke-width="0.3" >0</text>
<line x1="232.4" y1="227.5" x2="235.4" y2="227.5" stroke="#231f20" stroke-width="1" />
<text x="230.2" y="230.36" font-size="6.6" fill="#2a2a2a" text-anchor="end" stroke="#2a2a2a" stroke-width="0.3" >20</text>
<line x1="232.4" y1="214.5" x2="235.4" y2="214.5" stroke="#231f20" stroke-width="1" />
<text x="230.2" y="217.74" font-size="6.6" fill="#2a2a2a" text-anchor="end" stroke="#2a2a2a" stroke-width="0.3" >40</text>
<line x1="232.4" y1="202.5" x2="235.4" y2="202.5" stroke="#231f20" stroke-width="1" />
<text x="230.2" y="205.12" font-size="6.6" fill="#2a2a2a" text-anchor="end" stroke="#2a2a2a" stroke-width="0.3" >60</text>
<line x1="232.4" y1="189.5" x2="235.4" y2="189.5" stroke="#231f20" stroke-width="1" />
<text x="230.2" y="192.5" font-size="6.6" fill="#2a2a2a" text-anchor="end" stroke="#2a2a2a" stroke-width="0.3" >80</text>
<line x1="232.4" y1="177.5" x2="235.4" y2="177.5" stroke="#231f20" stroke-width="1" />
<text x="230.2" y="179.88" font-size="6.6" fill="#2a2a2a" text-anchor="end" stroke="#2a2a2a" stroke-width="0.3" >100</text>
<text x="203.5" y="207.45" font-size="8.8" fill="#2a2a2a" text-anchor="middle" textLength="30.4" lengthAdjust="spacingAndGlyphs" transform="rotate(-90 203.5 207.45)" stroke="#2a2a2a" stroke-width="0.2" >% of Ki67</text>
<text x="213.6" y="207.15" font-size="8.8" fill="#2a2a2a" text-anchor="middle" textLength="67" lengthAdjust="spacingAndGlyphs" transform="rotate(-90 213.6 207.15)" stroke="#2a2a2a" stroke-width="0.2" >in CD11b+Gr1+ cells</text>
<line x1="256.5" y1="204.7" x2="256.5" y2="211.2" stroke="#231f20" stroke-width="1" />
<line x1="252.4" y1="204.7" x2="261.4" y2="204.7" stroke="#444" stroke-width="1.5" />
<line x1="252.4" y1="211.2" x2="261.4" y2="211.2" stroke="#444" stroke-width="1.5" />
<circle cx="256.9" cy="200.1" r="1.65" fill="#4b5167" stroke="none" stroke-width="0"/>
<circle cx="255.3" cy="211.2" r="1.65" fill="#4b5167" stroke="none" stroke-width="0"/>
<circle cx="258.8" cy="214.6" r="1.65" fill="#4b5167" stroke="none" stroke-width="0"/>
<circle cx="256.9" cy="206.5" r="1.65" fill="#4b5167" stroke="none" stroke-width="0"/>
<line x1="246.5" y1="207.5" x2="267.3" y2="207.5" stroke="#231f20" stroke-width="1.2" />
<line x1="289.5" y1="186.6" x2="289.5" y2="189.6" stroke="#231f20" stroke-width="1" />
<line x1="285.2" y1="186.6" x2="294.2" y2="186.6" stroke="#444" stroke-width="1.5" />
<line x1="285.2" y1="189.6" x2="294.2" y2="189.6" stroke="#444" stroke-width="1.5" />
<rect x="285.95" y="182.95" width="3.3" height="3.3" fill="#5aa7e2" stroke="none" stroke-width="0"/>
<rect x="289.85" y="185.75" width="3.3" height="3.3" fill="#5aa7e2" stroke="none" stroke-width="0"/>
<rect x="285.95" y="187.15" width="3.3" height="3.3" fill="#5aa7e2" stroke="none" stroke-width="0"/>
<rect x="289.85" y="189.85" width="3.3" height="3.3" fill="#5aa7e2" stroke="none" stroke-width="0"/>
<line x1="279.3" y1="188.5" x2="300.1" y2="188.5" stroke="#231f20" stroke-width="1.2" />
<line x1="322.5" y1="194.3" x2="322.5" y2="200.1" stroke="#231f20" stroke-width="1" />
<line x1="317.7" y1="194.3" x2="326.7" y2="194.3" stroke="#444" stroke-width="1.5" />
<line x1="317.7" y1="200.1" x2="326.7" y2="200.1" stroke="#444" stroke-width="1.5" />
<polygon points="320.4,190.3 322.3,193.6 318.5,193.6" fill="#aa0d33" stroke="none" stroke-width="0"/>
<polygon points="324.3,192.6 326.2,195.9 322.4,195.9" fill="#aa0d33" stroke="none" stroke-width="0"/>
<polygon points="320.4,195.9 322.3,199.2 318.5,199.2" fill="#aa0d33" stroke="none" stroke-width="0"/>
<polygon points="324.3,200 326.2,203.3 322.4,203.3" fill="#aa0d33" stroke="none" stroke-width="0"/>
<line x1="311.9" y1="196.5" x2="332.6" y2="196.5" stroke="#231f20" stroke-width="1.2" />
<line x1="288.8" y1="178.5" x2="325.5" y2="178.5" stroke="#333" stroke-width="1" />
<circle cx="307.15" cy="175.2" r="1" fill="#2a2a2a"/>
<line x1="235" y1="240.5" x2="343.9" y2="240.5" stroke="#231f20" stroke-width="1" />
<line x1="256.5" y1="240" x2="256.5" y2="242.5" stroke="#231f20" stroke-width="1" />
<line x1="289.5" y1="240" x2="289.5" y2="242.5" stroke="#231f20" stroke-width="1" />
<line x1="322.5" y1="240" x2="322.5" y2="242.5" stroke="#231f20" stroke-width="1" />
<text x="256.9" y="252" font-size="7" fill="#6a7392" text-anchor="middle" textLength="11" lengthAdjust="spacingAndGlyphs" stroke="#6a7392" stroke-width="0.2" >PBS</text>
<text x="289.7" y="252" font-size="7" fill="#6eafe6" text-anchor="middle" textLength="11" lengthAdjust="spacingAndGlyphs" stroke="#6eafe6" stroke-width="0.2" >PBS</text>
<text x="322.2" y="252" font-size="7" fill="#c22a50" text-anchor="middle" textLength="31.8" lengthAdjust="spacingAndGlyphs" stroke="#c22a50" stroke-width="0.2" >C-miR146a</text>
<line x1="246.6" y1="256.5" x2="267" y2="256.5" stroke="#333" stroke-width="1" />
<line x1="284.2" y1="256.5" x2="327.4" y2="256.5" stroke="#333" stroke-width="1" />
<text x="257" y="268.2" font-size="7" fill="#231f20" text-anchor="middle" textLength="9.4" lengthAdjust="spacingAndGlyphs" stroke="#231f20" stroke-width="0.2" >WT</text>
<text x="290" y="268.3" font-size="7.5" fill="#231f20" textLength="27" lengthAdjust="spacingAndGlyphs" stroke="#231f20" stroke-width="0.2" >miR-146a</text>
<text x="317.4" y="265.3" font-size="4" fill="#777" stroke="#777" stroke-width="0.2" >−/−</text>
<text x="359.61" y="170" font-size="11.8" fill="#000" font-weight="bold" stroke="#000" stroke-width="0.25">E</text>
<line x1="402.5" y1="174.8" x2="402.5" y2="240.1" stroke="#231f20" stroke-width="1" />
<line x1="399.1" y1="240.5" x2="402.1" y2="240.5" stroke="#231f20" stroke-width="1" />
<text x="396.8" y="242.98" font-size="6.6" fill="#2a2a2a" text-anchor="end" stroke="#2a2a2a" stroke-width="0.3" >0</text>
<line x1="399.1" y1="227.5" x2="402.1" y2="227.5" stroke="#231f20" stroke-width="1" />
<text x="396.8" y="230.52" font-size="6.6" fill="#2a2a2a" text-anchor="end" stroke="#2a2a2a" stroke-width="0.3" >5</text>
<line x1="399.1" y1="215.5" x2="402.1" y2="215.5" stroke="#231f20" stroke-width="1" />
<text x="396.8" y="218.06" font-size="6.6" fill="#2a2a2a" text-anchor="end" stroke="#2a2a2a" stroke-width="0.3" >10</text>
<line x1="399.1" y1="202.5" x2="402.1" y2="202.5" stroke="#231f20" stroke-width="1" />
<text x="396.8" y="205.6" font-size="6.6" fill="#2a2a2a" text-anchor="end" stroke="#2a2a2a" stroke-width="0.3" >15</text>
<line x1="399.1" y1="190.5" x2="402.1" y2="190.5" stroke="#231f20" stroke-width="1" />
<text x="396.8" y="193.14" font-size="6.6" fill="#2a2a2a" text-anchor="end" stroke="#2a2a2a" stroke-width="0.3" >20</text>
<line x1="399.1" y1="177.5" x2="402.1" y2="177.5" stroke="#231f20" stroke-width="1" />
<text x="396.8" y="180.68" font-size="6.6" fill="#2a2a2a" text-anchor="end" stroke="#2a2a2a" stroke-width="0.3" >25</text>
<text x="373.5" y="208.15" font-size="8.8" fill="#2a2a2a" text-anchor="middle" textLength="34.6" lengthAdjust="spacingAndGlyphs" transform="rotate(-90 373.5 208.15)" stroke="#2a2a2a" stroke-width="0.2" >% of CSF1R</text>
<text x="382.8" y="206.15" font-size="8.8" fill="#2a2a2a" text-anchor="middle" textLength="67.6" lengthAdjust="spacingAndGlyphs" transform="rotate(-90 382.8 206.15)" stroke="#2a2a2a" stroke-width="0.2" >in CD11b+F480+ cells</text>
<line x1="423.5" y1="230.5" x2="423.5" y2="233.3" stroke="#231f20" stroke-width="1" />
<line x1="419.2" y1="230.5" x2="428.2" y2="230.5" stroke="#444" stroke-width="1.5" />
<line x1="419.2" y1="233.3" x2="428.2" y2="233.3" stroke="#444" stroke-width="1.5" />
<circle cx="423.7" cy="228.1" r="1.65" fill="#4b5167" stroke="none" stroke-width="0"/>
<circle cx="416.3" cy="231.9" r="1.65" fill="#4b5167" stroke="none" stroke-width="0"/>
<circle cx="423.7" cy="233.8" r="1.65" fill="#4b5167" stroke="none" stroke-width="0"/>
<circle cx="430.8" cy="234.2" r="1.65" fill="#4b5167" stroke="none" stroke-width="0"/>
<line x1="413" y1="231.5" x2="434.2" y2="231.5" stroke="#231f20" stroke-width="1.2" />
<line x1="457.5" y1="193.5" x2="457.5" y2="200.6" stroke="#231f20" stroke-width="1" />
<line x1="452.5" y1="193.5" x2="461.5" y2="193.5" stroke="#444" stroke-width="1.5" />
<line x1="452.5" y1="200.6" x2="461.5" y2="200.6" stroke="#444" stroke-width="1.5" />
<rect x="453.15" y="189.35" width="3.3" height="3.3" fill="#5aa7e2" stroke="none" stroke-width="0"/>
<rect x="457.55" y="190.85" width="3.3" height="3.3" fill="#5aa7e2" stroke="none" stroke-width="0"/>
<rect x="455.45" y="197.05" width="3.3" height="3.3" fill="#5aa7e2" stroke="none" stroke-width="0"/>
<rect x="455.45" y="204.65" width="3.3" height="3.3" fill="#5aa7e2" stroke="none" stroke-width="0"/>
<line x1="446.5" y1="197.5" x2="467.7" y2="197.5" stroke="#231f20" stroke-width="1.2" />
<line x1="490.5" y1="219.2" x2="490.5" y2="220.6" stroke="#231f20" stroke-width="1" />
<line x1="485.9" y1="219.2" x2="494.9" y2="219.2" stroke="#444" stroke-width="1.5" />
<line x1="485.9" y1="220.6" x2="494.9" y2="220.6" stroke="#444" stroke-width="1.5" />
<polygon points="482.3,217.3 484.2,220.6 480.4,220.6" fill="#aa0d33" stroke="none" stroke-width="0"/>
<polygon points="487.5,217.3 489.4,220.6 485.6,220.6" fill="#aa0d33" stroke="none" stroke-width="0"/>
<polygon points="493.7,218.9 495.6,222.2 491.8,222.2" fill="#aa0d33" stroke="none" stroke-width="0"/>
<polygon points="499,218.9 500.9,222.2 497.1,222.2" fill="#aa0d33" stroke="none" stroke-width="0"/>
<line x1="479.6" y1="219.5" x2="501.1" y2="219.5" stroke="#231f20" stroke-width="1.2" />
<line x1="457.3" y1="186.5" x2="493.8" y2="186.5" stroke="#333" stroke-width="1" />
<circle cx="475.55" cy="183.2" r="1" fill="#2a2a2a"/>
<line x1="401.8" y1="240.5" x2="513.1" y2="240.5" stroke="#231f20" stroke-width="1" />
<line x1="423.5" y1="240" x2="423.5" y2="242.5" stroke="#231f20" stroke-width="1" />
<line x1="457.5" y1="240" x2="457.5" y2="242.5" stroke="#231f20" stroke-width="1" />
<line x1="490.5" y1="240" x2="490.5" y2="242.5" stroke="#231f20" stroke-width="1" />
<text x="423.7" y="252.2" font-size="7" fill="#6a7392" text-anchor="middle" textLength="11" lengthAdjust="spacingAndGlyphs" stroke="#6a7392" stroke-width="0.2" >PBS</text>
<text x="457" y="252.2" font-size="7" fill="#6eafe6" text-anchor="middle" textLength="11" lengthAdjust="spacingAndGlyphs" stroke="#6eafe6" stroke-width="0.2" >PBS</text>
<text x="490.5" y="252.2" font-size="7" fill="#c22a50" text-anchor="middle" textLength="32.3" lengthAdjust="spacingAndGlyphs" stroke="#c22a50" stroke-width="0.2" >C-miR146a</text>
<line x1="413.8" y1="256.5" x2="433.9" y2="256.5" stroke="#333" stroke-width="1" />
<line x1="451.9" y1="256.5" x2="495.1" y2="256.5" stroke="#333" stroke-width="1" />
<text x="423.8" y="268" font-size="7" fill="#231f20" text-anchor="middle" textLength="9.4" lengthAdjust="spacingAndGlyphs" stroke="#231f20" stroke-width="0.2" >WT</text>
<text x="457.7" y="268.1" font-size="7.5" fill="#231f20" textLength="27" lengthAdjust="spacingAndGlyphs" stroke="#231f20" stroke-width="0.2" >miR-146a</text>
<text x="485.1" y="265.1" font-size="4" fill="#777" stroke="#777" stroke-width="0.2" >−/−</text>
<text x="7.11" y="288.6" font-size="11.8" fill="#000" font-weight="bold" stroke="#000" stroke-width="0.25">F</text>
<line x1="54.5" y1="291.5" x2="54.5" y2="358.6" stroke="#231f20" stroke-width="1" />
<line x1="51" y1="358.5" x2="54" y2="358.5" stroke="#231f20" stroke-width="1" />
<text x="47.6" y="361.48" font-size="6.6" fill="#2a2a2a" text-anchor="end" stroke="#2a2a2a" stroke-width="0.3" >0</text>
<line x1="51" y1="341.5" x2="54" y2="341.5" stroke="#231f20" stroke-width="1" />
<text x="47.6" y="344.86" font-size="6.6" fill="#2a2a2a" text-anchor="end" stroke="#2a2a2a" stroke-width="0.3" >100</text>
<line x1="51" y1="325.5" x2="54" y2="325.5" stroke="#231f20" stroke-width="1" />
<text x="47.6" y="328.24" font-size="6.6" fill="#2a2a2a" text-anchor="end" stroke="#2a2a2a" stroke-width="0.3" >200</text>
<line x1="51" y1="308.5" x2="54" y2="308.5" stroke="#231f20" stroke-width="1" />
<text x="47.6" y="311.62" font-size="6.6" fill="#2a2a2a" text-anchor="end" stroke="#2a2a2a" stroke-width="0.3" >300</text>
<line x1="51" y1="292.5" x2="54" y2="292.5" stroke="#231f20" stroke-width="1" />
<text x="47.6" y="295" font-size="6.6" fill="#2a2a2a" text-anchor="end" stroke="#2a2a2a" stroke-width="0.3" >400</text>
<text x="31.2" y="323.75" font-size="8.5" fill="#2a2a2a" text-anchor="middle" textLength="35.4" lengthAdjust="spacingAndGlyphs" transform="rotate(-90 31.2 323.75)" stroke="#2a2a2a" stroke-width="0.2" >IL-6 (ng/ml)</text>
<line x1="53.7" y1="358.5" x2="180.8" y2="358.5" stroke="#231f20" stroke-width="1" />
<line x1="74.5" y1="358.7" x2="74.5" y2="361.2" stroke="#231f20" stroke-width="1" />
<line x1="104.5" y1="358.7" x2="104.5" y2="361.2" stroke="#231f20" stroke-width="1" />
<line x1="135.5" y1="358.7" x2="135.5" y2="361.2" stroke="#231f20" stroke-width="1" />
<line x1="166.5" y1="358.7" x2="166.5" y2="361.2" stroke="#231f20" stroke-width="1" />
<text x="74.3" y="370.6" font-size="6.5" fill="#333" text-anchor="middle" stroke="#333" stroke-width="0.2" >0</text>
<text x="104.9" y="370.6" font-size="6.5" fill="#333" text-anchor="middle" stroke="#333" stroke-width="0.2" >2</text>
<text x="135.6" y="370.6" font-size="6.5" fill="#333" text-anchor="middle" stroke="#333" stroke-width="0.2" >6</text>
<text x="166.2" y="370.6" font-size="6.5" fill="#333" text-anchor="middle" stroke="#333" stroke-width="0.2" >24</text>
<text x="117.4" y="382.3" font-size="9" fill="#2a2a2a" text-anchor="middle" textLength="92.8" lengthAdjust="spacingAndGlyphs" stroke="#2a2a2a" stroke-width="0.2" >Time post LPS injection (hours)</text>
<polyline points="74.3,358.6 104.9,337.9 135.6,351.5 166.2,358.6" stroke="#c8c6cc" stroke-width="0.9" fill="none" stroke-linejoin="round" />
<line x1="104.5" y1="337.9" x2="104.5" y2="339.8" stroke="#c8c6cc" stroke-width="1" />
<line x1="102.9" y1="337.5" x2="106.9" y2="337.5" stroke="#c8c6cc" stroke-width="1" />
<line x1="102.9" y1="339.5" x2="106.9" y2="339.5" stroke="#c8c6cc" stroke-width="1" />
<line x1="135.5" y1="351.5" x2="135.5" y2="354.8" stroke="#c8c6cc" stroke-width="1" />
<line x1="133.6" y1="351.5" x2="137.6" y2="351.5" stroke="#c8c6cc" stroke-width="1" />
<line x1="133.6" y1="354.5" x2="137.6" y2="354.5" stroke="#c8c6cc" stroke-width="1" />
<rect x="73" y="357.3" width="2.6" height="2.6" fill="#c8c6cc" stroke="none" stroke-width="0"/>
<rect x="103.6" y="336.6" width="2.6" height="2.6" fill="#c8c6cc" stroke="none" stroke-width="0"/>
<rect x="134.3" y="350.2" width="2.6" height="2.6" fill="#c8c6cc" stroke="none" stroke-width="0"/>
<rect x="164.9" y="357.3" width="2.6" height="2.6" fill="#c8c6cc" stroke="none" stroke-width="0"/>
<polyline points="74.3,358.6 104.9,330.5 135.6,350.4 166.2,358.6" stroke="#4b5167" stroke-width="1.1" fill="none" stroke-linejoin="round" />
<line x1="104.5" y1="323.3" x2="104.5" y2="330.5" stroke="#4b5167" stroke-width="1" />
<line x1="102.9" y1="323.5" x2="106.9" y2="323.5" stroke="#4b5167" stroke-width="1" />
<line x1="102.9" y1="330.5" x2="106.9" y2="330.5" stroke="#4b5167" stroke-width="1" />
<line x1="135.5" y1="345.8" x2="135.5" y2="350.4" stroke="#4b5167" stroke-width="1" />
<line x1="133.6" y1="345.5" x2="137.6" y2="345.5" stroke="#4b5167" stroke-width="1" />
<line x1="133.6" y1="350.5" x2="137.6" y2="350.5" stroke="#4b5167" stroke-width="1" />
<circle cx="74.3" cy="358.6" r="1.4" fill="#4b5167" stroke="none" stroke-width="0"/>
<circle cx="104.9" cy="330.5" r="1.4" fill="#4b5167" stroke="none" stroke-width="0"/>
<circle cx="135.6" cy="350.4" r="1.4" fill="#4b5167" stroke="none" stroke-width="0"/>
<circle cx="166.2" cy="358.6" r="1.4" fill="#4b5167" stroke="none" stroke-width="0"/>
<polyline points="74.3,358.6 104.9,312.9 135.6,316.3 166.2,358.6" stroke="#5aa7e2" stroke-width="1.1" fill="none" stroke-linejoin="round" />
<line x1="104.5" y1="304.2" x2="104.5" y2="321" stroke="#5aa7e2" stroke-width="1" />
<line x1="102.9" y1="304.5" x2="106.9" y2="304.5" stroke="#5aa7e2" stroke-width="1" />
<line x1="102.9" y1="321.5" x2="106.9" y2="321.5" stroke="#5aa7e2" stroke-width="1" />
<rect x="72.9" y="357.2" width="2.8" height="2.8" fill="#5aa7e2" stroke="none" stroke-width="0"/>
<rect x="103.5" y="311.5" width="2.8" height="2.8" fill="#5aa7e2" stroke="none" stroke-width="0"/>
<rect x="134.2" y="314.9" width="2.8" height="2.8" fill="#5aa7e2" stroke="none" stroke-width="0"/>
<rect x="164.8" y="357.2" width="2.8" height="2.8" fill="#5aa7e2" stroke="none" stroke-width="0"/>
<polyline points="74.3,358.6 104.9,330.8 135.6,329.6 166.2,358.6" stroke="#b5163f" stroke-width="1.3" fill="none" stroke-linejoin="round" />
<line x1="104.5" y1="326.7" x2="104.5" y2="334.8" stroke="#b5163f" stroke-width="1" />
<line x1="102.9" y1="326.5" x2="106.9" y2="326.5" stroke="#b5163f" stroke-width="1" />
<line x1="102.9" y1="334.5" x2="106.9" y2="334.5" stroke="#b5163f" stroke-width="1" />
<rect x="72.7" y="357" width="3.2" height="3.2" fill="#b5163f" stroke="none" stroke-width="0"/>
<rect x="103.3" y="329.2" width="3.2" height="3.2" fill="#b5163f" stroke="none" stroke-width="0"/>
<rect x="134" y="328" width="3.2" height="3.2" fill="#b5163f" stroke="none" stroke-width="0"/>
<rect x="164.6" y="357" width="3.2" height="3.2" fill="#b5163f" stroke="none" stroke-width="0"/>
<polyline points="74.3,358.6 104.9,308.6 135.6,302.8 166.2,358.6" stroke="#69b13f" stroke-width="1.1" fill="none" stroke-linejoin="round" />
<circle cx="74.3" cy="358.6" r="1.4" fill="#69b13f" stroke="none" stroke-width="0"/>
<circle cx="104.9" cy="308.6" r="1.4" fill="#69b13f" stroke="none" stroke-width="0"/>
<circle cx="135.6" cy="302.8" r="1.4" fill="#69b13f" stroke="none" stroke-width="0"/>
<circle cx="166.2" cy="358.6" r="1.4" fill="#69b13f" stroke="none" stroke-width="0"/>
<circle cx="109.9" cy="326.2" r="1" fill="#2a2a2a"/>
<circle cx="113.1" cy="326.2" r="1" fill="#2a2a2a"/>
<circle cx="116.3" cy="326.2" r="1" fill="#2a2a2a"/>
<circle cx="132.5" cy="325.6" r="1" fill="#2a2a2a"/>
<circle cx="135.7" cy="325.6" r="1" fill="#2a2a2a"/>
<circle cx="138.9" cy="325.6" r="1" fill="#2a2a2a"/>
<line x1="222.5" y1="291.7" x2="222.5" y2="358.6" stroke="#231f20" stroke-width="1" />
<line x1="219" y1="358.5" x2="222" y2="358.5" stroke="#231f20" stroke-width="1" />
<text x="216.2" y="361.48" font-size="6.6" fill="#2a2a2a" text-anchor="end" stroke="#2a2a2a" stroke-width="0.3" >0</text>
<line x1="219" y1="342.5" x2="222" y2="342.5" stroke="#231f20" stroke-width="1" />
<text x="216.2" y="344.93" font-size="6.6" fill="#2a2a2a" text-anchor="end" stroke="#2a2a2a" stroke-width="0.3" >5</text>
<line x1="219" y1="325.5" x2="222" y2="325.5" stroke="#231f20" stroke-width="1" />
<text x="216.2" y="328.38" font-size="6.6" fill="#2a2a2a" text-anchor="end" stroke="#2a2a2a" stroke-width="0.3" >10</text>
<line x1="219" y1="308.5" x2="222" y2="308.5" stroke="#231f20" stroke-width="1" />
<text x="216.2" y="311.83" font-size="6.6" fill="#2a2a2a" text-anchor="end" stroke="#2a2a2a" stroke-width="0.3" >15</text>
<line x1="219" y1="292.5" x2="222" y2="292.5" stroke="#231f20" stroke-width="1" />
<text x="216.2" y="295.28" font-size="6.6" fill="#2a2a2a" text-anchor="end" stroke="#2a2a2a" stroke-width="0.3" >20</text>
<text x="203.8" y="324" font-size="8.5" fill="#2a2a2a" text-anchor="middle" textLength="42.7" lengthAdjust="spacingAndGlyphs" transform="rotate(-90 203.8 324)" stroke="#2a2a2a" stroke-width="0.2" >TNF-α (ng/ml)</text>
<line x1="221.7" y1="358.5" x2="349.6" y2="358.5" stroke="#231f20" stroke-width="1" />
<line x1="242.5" y1="358.7" x2="242.5" y2="361.2" stroke="#231f20" stroke-width="1" />
<line x1="273.5" y1="358.7" x2="273.5" y2="361.2" stroke="#231f20" stroke-width="1" />
<line x1="304.5" y1="358.7" x2="304.5" y2="361.2" stroke="#231f20" stroke-width="1" />
<line x1="335.5" y1="358.7" x2="335.5" y2="361.2" stroke="#231f20" stroke-width="1" />
<text x="242.8" y="370.6" font-size="6.5" fill="#333" text-anchor="middle" stroke="#333" stroke-width="0.2" >0</text>
<text x="273.6" y="370.6" font-size="6.5" fill="#333" text-anchor="middle" stroke="#333" stroke-width="0.2" >2</text>
<text x="304.5" y="370.6" font-size="6.5" fill="#333" text-anchor="middle" stroke="#333" stroke-width="0.2" >6</text>
<text x="335" y="370.6" font-size="6.5" fill="#333" text-anchor="middle" stroke="#333" stroke-width="0.2" >24</text>
<text x="286.2" y="382.3" font-size="9" fill="#2a2a2a" text-anchor="middle" textLength="92.4" lengthAdjust="spacingAndGlyphs" stroke="#2a2a2a" stroke-width="0.2" >Time post LPS injection (hours)</text>
<polyline points="242.8,356 273.6,348.2 304.5,355.1 335,356" stroke="#c8c6cc" stroke-width="1" fill="none" stroke-linejoin="round" />
<rect x="241.5" y="354.7" width="2.6" height="2.6" fill="#c8c6cc" stroke="none" stroke-width="0"/>
<rect x="272.3" y="346.9" width="2.6" height="2.6" fill="#c8c6cc" stroke="none" stroke-width="0"/>
<rect x="303.2" y="353.8" width="2.6" height="2.6" fill="#c8c6cc" stroke="none" stroke-width="0"/>
<rect x="333.7" y="354.7" width="2.6" height="2.6" fill="#c8c6cc" stroke="none" stroke-width="0"/>
<polyline points="242.8,354.2 273.6,343 304.5,349 335,356" stroke="#4b5167" stroke-width="1.2" fill="none" stroke-linejoin="round" />
<line x1="304.5" y1="346.8" x2="304.5" y2="351" stroke="#4b5167" stroke-width="1" />
<line x1="302.5" y1="346.5" x2="306.5" y2="346.5" stroke="#4b5167" stroke-width="1" />
<line x1="302.5" y1="351.5" x2="306.5" y2="351.5" stroke="#4b5167" stroke-width="1" />
<circle cx="242.8" cy="354.2" r="1.4" fill="#4b5167" stroke="none" stroke-width="0"/>
<circle cx="273.6" cy="343" r="1.4" fill="#4b5167" stroke="none" stroke-width="0"/>
<circle cx="304.5" cy="349" r="1.4" fill="#4b5167" stroke="none" stroke-width="0"/>
<circle cx="335" cy="356" r="1.4" fill="#4b5167" stroke="none" stroke-width="0"/>
<polyline points="242.8,354.2 273.6,318.7 304.5,326.5 335,355.1" stroke="#5aa7e2" stroke-width="1.2" fill="none" stroke-linejoin="round" />
<line x1="273.5" y1="313.6" x2="273.5" y2="321" stroke="#5aa7e2" stroke-width="1" />
<line x1="271.6" y1="313.5" x2="275.6" y2="313.5" stroke="#5aa7e2" stroke-width="1" />
<line x1="271.6" y1="321.5" x2="275.6" y2="321.5" stroke="#5aa7e2" stroke-width="1" />
<rect x="241.4" y="352.8" width="2.8" height="2.8" fill="#5aa7e2" stroke="none" stroke-width="0"/>
<rect x="272.2" y="317.3" width="2.8" height="2.8" fill="#5aa7e2" stroke="none" stroke-width="0"/>
<rect x="303.1" y="325.1" width="2.8" height="2.8" fill="#5aa7e2" stroke="none" stroke-width="0"/>
<rect x="333.6" y="353.7" width="2.8" height="2.8" fill="#5aa7e2" stroke="none" stroke-width="0"/>
<polyline points="242.8,348.2 273.6,297.1 304.5,320.5 335,351.6" stroke="#69b13f" stroke-width="1.2" fill="none" stroke-linejoin="round" />
<circle cx="242.8" cy="348.2" r="1.4" fill="#69b13f" stroke="none" stroke-width="0"/>
<circle cx="273.6" cy="297.1" r="1.4" fill="#69b13f" stroke="none" stroke-width="0"/>
<circle cx="304.5" cy="320.5" r="1.4" fill="#69b13f" stroke="none" stroke-width="0"/>
<circle cx="335" cy="351.6" r="1.4" fill="#69b13f" stroke="none" stroke-width="0"/>
<polyline points="242.8,352.2 273.6,326.5 304.5,333.8 335,349.4" stroke="#b5163f" stroke-width="1.4" fill="none" stroke-linejoin="round" />
<line x1="273.5" y1="324" x2="273.5" y2="328" stroke="#b5163f" stroke-width="1" />
<line x1="271.6" y1="324.5" x2="275.6" y2="324.5" stroke="#b5163f" stroke-width="1" />
<line x1="271.6" y1="328.5" x2="275.6" y2="328.5" stroke="#b5163f" stroke-width="1" />
<line x1="304.5" y1="327.9" x2="304.5" y2="339" stroke="#b5163f" stroke-width="1" />
<line x1="302.5" y1="327.5" x2="306.5" y2="327.5" stroke="#b5163f" stroke-width="1" />
<line x1="302.5" y1="339.5" x2="306.5" y2="339.5" stroke="#b5163f" stroke-width="1" />
<polygon points="242.8,353.93 244.53,350.93 241.08,350.93" fill="#b5163f" stroke="none" stroke-width="0"/>
<polygon points="273.6,328.23 275.33,325.23 271.88,325.23" fill="#b5163f" stroke="none" stroke-width="0"/>
<polygon points="304.5,335.53 306.23,332.53 302.77,332.53" fill="#b5163f" stroke="none" stroke-width="0"/>
<polygon points="335,351.12 336.73,348.12 333.27,348.12" fill="#b5163f" stroke="none" stroke-width="0"/>
<circle cx="271" cy="336" r="1" fill="#2a2a2a"/>
<circle cx="274.2" cy="336" r="1" fill="#2a2a2a"/>
<circle cx="277.4" cy="336" r="1" fill="#2a2a2a"/>
<circle cx="301.5" cy="343.8" r="1" fill="#2a2a2a"/>
<circle cx="304.7" cy="343.8" r="1" fill="#2a2a2a"/>
<circle cx="307.9" cy="343.8" r="1" fill="#2a2a2a"/>
<line x1="355.6" y1="299.4" x2="371.8" y2="299.4" stroke="#5aa7e2" stroke-width="3" />
<text x="374.5" y="301.3" font-size="7.5" fill="#231f20" textLength="11" lengthAdjust="spacingAndGlyphs" stroke="#231f20" stroke-width="0.2" >PBS</text>
<line x1="355.6" y1="312.9" x2="371.8" y2="312.9" stroke="#69b13f" stroke-width="3" />
<text x="374.5" y="314.8" font-size="7.5" fill="#231f20" textLength="29.5" lengthAdjust="spacingAndGlyphs" stroke="#231f20" stroke-width="0.2" >C-scrRNA</text>
<line x1="355.6" y1="326.3" x2="371.8" y2="326.3" stroke="#aa0d33" stroke-width="3" />
<text x="374.5" y="328.2" font-size="7.5" fill="#231f20" textLength="32.5" lengthAdjust="spacingAndGlyphs" stroke="#231f20" stroke-width="0.2" >C-miR146a</text>
<line x1="355.6" y1="339.8" x2="371.8" y2="339.8" stroke="#4b5167" stroke-width="3" />
<text x="374.5" y="341.7" font-size="7.5" fill="#231f20" textLength="11" lengthAdjust="spacingAndGlyphs" stroke="#231f20" stroke-width="0.2" >PBS</text>
<line x1="355.6" y1="353.8" x2="371.8" y2="353.8" stroke="#c8c6cc" stroke-width="3" />
<text x="374.5" y="355.7" font-size="7.5" fill="#231f20" textLength="32.5" lengthAdjust="spacingAndGlyphs" stroke="#231f20" stroke-width="0.2" >C-miR146a</text>
<line x1="418.5" y1="294" x2="418.5" y2="326.3" stroke="#333" stroke-width="1" />
<line x1="418.5" y1="331.7" x2="418.5" y2="356" stroke="#333" stroke-width="1" />
<text x="421.8" y="315" font-size="7.5" fill="#231f20" textLength="27.5" lengthAdjust="spacingAndGlyphs" stroke="#231f20" stroke-width="0.2" >miR-146a</text>
<text x="449.7" y="312" font-size="4" fill="#777" stroke="#777" stroke-width="0.2" >−/−</text>
<text x="421.6" y="347.1" font-size="7.5" fill="#231f20" textLength="10.5" lengthAdjust="spacingAndGlyphs" stroke="#231f20" stroke-width="0.2" >WT</text>
<text x="7.32" y="403.6" font-size="11.8" fill="#000" font-weight="bold" stroke="#000" stroke-width="0.25">G</text>
<line x1="54" y1="405.6" x2="54" y2="470" stroke="#231f20" stroke-width="1.5" />
<line x1="50.8" y1="408.5" x2="53.8" y2="408.5" stroke="#231f20" stroke-width="1" />
<text x="43.9" y="411" font-size="6.8" fill="#2a2a2a" text-anchor="end" textLength="15.2" lengthAdjust="spacingAndGlyphs" stroke="#2a2a2a" stroke-width="0.25" >2×10</text>
<text x="44.2" y="408" font-size="4" fill="#555" stroke="#555" stroke-width="0.1" >25</text>
<line x1="50.8" y1="429.5" x2="53.8" y2="429.5" stroke="#231f20" stroke-width="1" />
<text x="43.9" y="431.6" font-size="6.8" fill="#2a2a2a" text-anchor="end" textLength="15.2" lengthAdjust="spacingAndGlyphs" stroke="#2a2a2a" stroke-width="0.25" >1×10</text>
<text x="44.2" y="428.6" font-size="4" fill="#555" stroke="#555" stroke-width="0.1" >25</text>
<line x1="50.8" y1="449.5" x2="53.8" y2="449.5" stroke="#231f20" stroke-width="1" />
<text x="43.9" y="451.9" font-size="6.8" fill="#2a2a2a" text-anchor="end" textLength="15.2" lengthAdjust="spacingAndGlyphs" stroke="#2a2a2a" stroke-width="0.25" >5×10</text>
<text x="44.2" y="448.9" font-size="4" fill="#555" stroke="#555" stroke-width="0.1" >24</text>
<line x1="50.8" y1="469.5" x2="53.8" y2="469.5" stroke="#231f20" stroke-width="1" />
<text x="47.6" y="472.4" font-size="6.6" fill="#2a2a2a" text-anchor="end" stroke="#2a2a2a" stroke-width="0.3" >0</text>
<text x="23.1" y="437.95" font-size="8.8" fill="#2a2a2a" text-anchor="middle" textLength="30.8" lengthAdjust="spacingAndGlyphs" transform="rotate(-90 23.1 437.95)" stroke="#2a2a2a" stroke-width="0.2" >CFU/gram</text>
<line x1="73.5" y1="444.6" x2="73.5" y2="452.3" stroke="#231f20" stroke-width="1" />
<line x1="68.5" y1="444.5" x2="77.5" y2="444.5" stroke="#231f20" stroke-width="1.2" />
<line x1="68.5" y1="452.5" x2="77.5" y2="452.5" stroke="#231f20" stroke-width="1.2" />
<circle cx="72.9" cy="434.3" r="1.65" fill="#4b5167" stroke="none" stroke-width="0"/>
<circle cx="72.9" cy="448.3" r="1.65" fill="#4b5167" stroke="none" stroke-width="0"/>
<circle cx="70.6" cy="455.9" r="1.65" fill="#4b5167" stroke="none" stroke-width="0"/>
<circle cx="75.9" cy="455.4" r="1.65" fill="#4b5167" stroke="none" stroke-width="0"/>
<line x1="63.7" y1="448.3" x2="82.8" y2="448.3" stroke="#231f20" stroke-width="1.5" />
<line x1="102.5" y1="432.6" x2="102.5" y2="437.2" stroke="#231f20" stroke-width="1" />
<line x1="98.6" y1="432.5" x2="105.6" y2="432.5" stroke="#555" stroke-width="1.2" />
<line x1="98.6" y1="437.5" x2="105.6" y2="437.5" stroke="#555" stroke-width="1.2" />
<rect x="95" y="429.3" width="3" height="3" fill="#c8c6cc" stroke="none" stroke-width="0"/>
<rect x="105.6" y="429.3" width="3" height="3" fill="#c8c6cc" stroke="none" stroke-width="0"/>
<rect x="100.6" y="434.1" width="3" height="3" fill="#c8c6cc" stroke="none" stroke-width="0"/>
<rect x="100.6" y="439.9" width="3" height="3" fill="#c8c6cc" stroke="none" stroke-width="0"/>
<line x1="92.8" y1="434.8" x2="111.9" y2="434.8" stroke="#231f20" stroke-width="1.5" />
<line x1="122" y1="469.3" x2="140" y2="469.3" stroke="#555" stroke-width="1.6" />
<polygon points="123.3,466.44 125.25,469.84 121.34,469.84" fill="#69b13f" stroke="none" stroke-width="0"/>
<polygon points="128.5,466.44 130.46,469.84 126.55,469.84" fill="#69b13f" stroke="none" stroke-width="0"/>
<polygon points="133.5,466.44 135.46,469.84 131.54,469.84" fill="#69b13f" stroke="none" stroke-width="0"/>
<polygon points="138.6,466.44 140.56,469.84 136.64,469.84" fill="#69b13f" stroke="none" stroke-width="0"/>
<line x1="159.5" y1="457.8" x2="159.5" y2="461" stroke="#231f20" stroke-width="1" />
<line x1="156.1" y1="457.5" x2="163.1" y2="457.5" stroke="#231f20" stroke-width="1.2" />
<line x1="156.1" y1="461.5" x2="163.1" y2="461.5" stroke="#231f20" stroke-width="1.2" />
<polygon points="154.8,461.24 156.64,458.04 152.96,458.04" fill="#aa0d33" stroke="none" stroke-width="0"/>
<polygon points="157.4,458.04 159.24,454.84 155.56,454.84" fill="#aa0d33" stroke="none" stroke-width="0"/>
<polygon points="159.6,463.14 161.44,459.94 157.76,459.94" fill="#aa0d33" stroke="none" stroke-width="0"/>
<polygon points="162.1,458.94 163.94,455.74 160.26,455.74" fill="#aa0d33" stroke="none" stroke-width="0"/>
<polygon points="164.8,464.04 166.64,460.84 162.96,460.84" fill="#aa0d33" stroke="none" stroke-width="0"/>
<line x1="150.2" y1="459.4" x2="169.2" y2="459.4" stroke="#231f20" stroke-width="1.5" />
<line x1="73.5" y1="420.5" x2="104.8" y2="420.5" stroke="#333" stroke-width="1" />
<circle cx="89.15" cy="417.2" r="1" fill="#2a2a2a"/>
<line x1="131.9" y1="447.5" x2="163.2" y2="447.5" stroke="#333" stroke-width="1" />
<circle cx="147.55" cy="444.2" r="1" fill="#2a2a2a"/>
<line x1="53.3" y1="470" x2="178.8" y2="470" stroke="#474747" stroke-width="2" />
<line x1="73.5" y1="471" x2="73.5" y2="473" stroke="#231f20" stroke-width="1" />
<line x1="101.5" y1="471" x2="101.5" y2="473" stroke="#231f20" stroke-width="1" />
<line x1="130.5" y1="471" x2="130.5" y2="473" stroke="#231f20" stroke-width="1" />
<line x1="159.5" y1="471" x2="159.5" y2="473" stroke="#231f20" stroke-width="1" />
<text x="77.5" y="478.5" font-size="7.3" fill="#231f20" text-anchor="end" textLength="28.5" lengthAdjust="spacingAndGlyphs" transform="rotate(-45 77.5 478.5)" stroke="#231f20" stroke-width="0.2" >C-scrRNA</text>
<text x="106.4" y="478.5" font-size="7.3" fill="#231f20" text-anchor="end" textLength="31.5" lengthAdjust="spacingAndGlyphs" transform="rotate(-45 106.4 478.5)" stroke="#231f20" stroke-width="0.2" >C-miR146a</text>
<text x="135.2" y="478.5" font-size="7.3" fill="#231f20" text-anchor="end" textLength="28.5" lengthAdjust="spacingAndGlyphs" transform="rotate(-45 135.2 478.5)" stroke="#231f20" stroke-width="0.2" >C-scrRNA</text>
<text x="164.1" y="478.5" font-size="7.3" fill="#231f20" text-anchor="end" textLength="31.5" lengthAdjust="spacingAndGlyphs" transform="rotate(-45 164.1 478.5)" stroke="#231f20" stroke-width="0.2" >C-miR146a</text>
<line x1="49.4" y1="504.5" x2="95.2" y2="504.5" stroke="#333" stroke-width="1" />
<line x1="105.2" y1="504.5" x2="150.9" y2="504.5" stroke="#333" stroke-width="1" />
<text x="71.8" y="516.8" font-size="7" fill="#231f20" text-anchor="middle" textLength="9.4" lengthAdjust="spacingAndGlyphs" stroke="#231f20" stroke-width="0.2" >WT</text>
<text x="111.6" y="516.9" font-size="7.5" fill="#231f20" textLength="27" lengthAdjust="spacingAndGlyphs" stroke="#231f20" stroke-width="0.2" >miR-146a</text>
<text x="139" y="513.9" font-size="4" fill="#777" stroke="#777" stroke-width="0.2" >fl/fl</text>
<text x="195.11" y="403.6" font-size="11.8" fill="#000" font-weight="bold" stroke="#000" stroke-width="0.25">H</text>
<line x1="228.5" y1="407.5" x2="228.5" y2="469.6" stroke="#231f20" stroke-width="1" />
<line x1="225.1" y1="469.5" x2="228.1" y2="469.5" stroke="#231f20" stroke-width="1" />
<text x="222.5" y="472.55" font-size="6.82" fill="#2a2a2a" text-anchor="end" stroke="#2a2a2a" stroke-width="0.3" >0</text>
<line x1="225.1" y1="449.5" x2="228.1" y2="449.5" stroke="#231f20" stroke-width="1" />
<text x="222.5" y="452.05" font-size="6.82" fill="#2a2a2a" text-anchor="end" stroke="#2a2a2a" stroke-width="0.3" >5</text>
<line x1="225.1" y1="428.5" x2="228.1" y2="428.5" stroke="#231f20" stroke-width="1" />
<text x="222.5" y="431.55" font-size="6.82" fill="#2a2a2a" text-anchor="end" stroke="#2a2a2a" stroke-width="0.3" >10</text>
<line x1="225.1" y1="408.5" x2="228.1" y2="408.5" stroke="#231f20" stroke-width="1" />
<text x="222.5" y="411.05" font-size="6.82" fill="#2a2a2a" text-anchor="end" stroke="#2a2a2a" stroke-width="0.3" >15</text>
<text x="210" y="437.35" font-size="8.8" fill="#2a2a2a" text-anchor="middle" textLength="47.2" lengthAdjust="spacingAndGlyphs" transform="rotate(-90 210 437.35)" stroke="#2a2a2a" stroke-width="0.2" >Weight loss (%)</text>
<line x1="245.5" y1="453" x2="245.5" y2="467" stroke="#231f20" stroke-width="1" />
<line x1="241.4" y1="453.5" x2="249.4" y2="453.5" stroke="#231f20" stroke-width="1" />
<line x1="241.4" y1="467.5" x2="249.4" y2="467.5" stroke="#231f20" stroke-width="1" />
<circle cx="242.6" cy="450.1" r="1.6" fill="#4b5167" stroke="none" stroke-width="0"/>
<circle cx="239.8" cy="452.9" r="1.6" fill="#4b5167" stroke="none" stroke-width="0"/>
<circle cx="248" cy="452.7" r="1.6" fill="#4b5167" stroke="none" stroke-width="0"/>
<circle cx="239.5" cy="455.3" r="1.6" fill="#4b5167" stroke="none" stroke-width="0"/>
<circle cx="244.9" cy="456.8" r="1.6" fill="#4b5167" stroke="none" stroke-width="0"/>
<circle cx="250.8" cy="456.2" r="1.6" fill="#4b5167" stroke="none" stroke-width="0"/>
<circle cx="242.6" cy="459.9" r="1.6" fill="#4b5167" stroke="none" stroke-width="0"/>
<circle cx="248" cy="461.2" r="1.6" fill="#4b5167" stroke="none" stroke-width="0"/>
<circle cx="240" cy="467.6" r="1.6" fill="#4b5167" stroke="none" stroke-width="0"/>
<circle cx="245.2" cy="469.6" r="1.6" fill="#4b5167" stroke="none" stroke-width="0"/>
<circle cx="250.8" cy="469.6" r="1.6" fill="#4b5167" stroke="none" stroke-width="0"/>
<line x1="234.2" y1="460.5" x2="256.5" y2="460.5" stroke="#231f20" stroke-width="1" />
<line x1="278.5" y1="454.7" x2="278.5" y2="469.2" stroke="#231f20" stroke-width="1" />
<line x1="274.5" y1="454.5" x2="282.5" y2="454.5" stroke="#231f20" stroke-width="1" />
<line x1="274.5" y1="469.5" x2="282.5" y2="469.5" stroke="#231f20" stroke-width="1" />
<rect x="277" y="449.2" width="3" height="3" fill="#c8c6cc" stroke="none" stroke-width="0"/>
<rect x="271.1" y="454.3" width="3" height="3" fill="#c8c6cc" stroke="none" stroke-width="0"/>
<rect x="283.1" y="453.8" width="3" height="3" fill="#c8c6cc" stroke="none" stroke-width="0"/>
<rect x="277" y="455" width="3" height="3" fill="#c8c6cc" stroke="none" stroke-width="0"/>
<rect x="274.5" y="459.7" width="3" height="3" fill="#c8c6cc" stroke="none" stroke-width="0"/>
<rect x="279.6" y="458.6" width="3" height="3" fill="#c8c6cc" stroke="none" stroke-width="0"/>
<rect x="277" y="463.5" width="3" height="3" fill="#c8c6cc" stroke="none" stroke-width="0"/>
<rect x="271.9" y="467.8" width="3" height="3" fill="#c8c6cc" stroke="none" stroke-width="0"/>
<rect x="282.7" y="467.8" width="3" height="3" fill="#c8c6cc" stroke="none" stroke-width="0"/>
<rect x="277" y="467.8" width="3" height="3" fill="#c8c6cc" stroke="none" stroke-width="0"/>
<line x1="267.2" y1="461.5" x2="289.5" y2="461.5" stroke="#231f20" stroke-width="1" />
<line x1="311.5" y1="428.9" x2="311.5" y2="446.2" stroke="#231f20" stroke-width="1" />
<line x1="306" y1="428.5" x2="317" y2="428.5" stroke="#231f20" stroke-width="1" />
<line x1="306" y1="446.5" x2="317" y2="446.5" stroke="#231f20" stroke-width="1" />
<polygon points="311.5,418.66 313.34,421.86 309.66,421.86" fill="#69b13f" stroke="none" stroke-width="0"/>
<polygon points="311.5,426.66 313.34,429.86 309.66,429.86" fill="#69b13f" stroke="none" stroke-width="0"/>
<polygon points="308.8,437.86 310.64,441.06 306.96,441.06" fill="#69b13f" stroke="none" stroke-width="0"/>
<polygon points="303.5,440.96 305.34,444.16 301.66,444.16" fill="#69b13f" stroke="none" stroke-width="0"/>
<polygon points="308.8,442.56 310.64,445.76 306.96,445.76" fill="#69b13f" stroke="none" stroke-width="0"/>
<polygon points="314.2,440.96 316.04,444.16 312.36,444.16" fill="#69b13f" stroke="none" stroke-width="0"/>
<polygon points="316.9,438.76 318.74,441.96 315.06,441.96" fill="#69b13f" stroke="none" stroke-width="0"/>
<polygon points="319.6,439.86 321.44,443.06 317.76,443.06" fill="#69b13f" stroke="none" stroke-width="0"/>
<line x1="300.8" y1="437.5" x2="322.6" y2="437.5" stroke="#231f20" stroke-width="1" />
<line x1="344.5" y1="453.6" x2="344.5" y2="466.6" stroke="#231f20" stroke-width="1" />
<line x1="339.5" y1="453.5" x2="349.5" y2="453.5" stroke="#231f20" stroke-width="1" />
<line x1="339.5" y1="466.5" x2="349.5" y2="466.5" stroke="#231f20" stroke-width="1" />
<polygon points="344.5,450.94 346.34,447.74 342.66,447.74" fill="#aa0d33" stroke="none" stroke-width="0"/>
<polygon points="339.1,456.74 340.94,453.54 337.26,453.54" fill="#aa0d33" stroke="none" stroke-width="0"/>
<polygon points="349.9,456.74 351.74,453.54 348.06,453.54" fill="#aa0d33" stroke="none" stroke-width="0"/>
<polygon points="344.5,459.04 346.34,455.84 342.66,455.84" fill="#aa0d33" stroke="none" stroke-width="0"/>
<polygon points="339.1,461.04 340.94,457.84 337.26,457.84" fill="#aa0d33" stroke="none" stroke-width="0"/>
<polygon points="349.9,461.74 351.74,458.54 348.06,458.54" fill="#aa0d33" stroke="none" stroke-width="0"/>
<polygon points="344.5,463.04 346.34,459.84 342.66,459.84" fill="#aa0d33" stroke="none" stroke-width="0"/>
<polygon points="344.5,467.84 346.34,464.64 342.66,464.64" fill="#aa0d33" stroke="none" stroke-width="0"/>
<polygon points="341.8,471.14 343.64,467.94 339.96,467.94" fill="#aa0d33" stroke="none" stroke-width="0"/>
<polygon points="347.2,471.14 349.04,467.94 345.36,467.94" fill="#aa0d33" stroke="none" stroke-width="0"/>
<line x1="334.1" y1="460.5" x2="355.7" y2="460.5" stroke="#231f20" stroke-width="1" />
<line x1="313.6" y1="414.5" x2="341.8" y2="414.5" stroke="#333" stroke-width="1" />
<circle cx="327.7" cy="411.2" r="1" fill="#2a2a2a"/>
<line x1="227.5" y1="470" x2="361.8" y2="470" stroke="#474747" stroke-width="2" />
<line x1="245.5" y1="471" x2="245.5" y2="473" stroke="#231f20" stroke-width="1" />
<line x1="278.5" y1="471" x2="278.5" y2="473" stroke="#231f20" stroke-width="1" />
<line x1="311.5" y1="471" x2="311.5" y2="473" stroke="#231f20" stroke-width="1" />
<line x1="344.5" y1="471" x2="344.5" y2="473" stroke="#231f20" stroke-width="1" />
<text x="249.2" y="478.5" font-size="7.3" fill="#231f20" text-anchor="end" textLength="28.5" lengthAdjust="spacingAndGlyphs" transform="rotate(-45 249.2 478.5)" stroke="#231f20" stroke-width="0.2" >C-scrRNA</text>
<text x="282.3" y="478.5" font-size="7.3" fill="#231f20" text-anchor="end" textLength="31.5" lengthAdjust="spacingAndGlyphs" transform="rotate(-45 282.3 478.5)" stroke="#231f20" stroke-width="0.2" >C-miR146a</text>
<text x="315.3" y="478.5" font-size="7.3" fill="#231f20" text-anchor="end" textLength="28.5" lengthAdjust="spacingAndGlyphs" transform="rotate(-45 315.3 478.5)" stroke="#231f20" stroke-width="0.2" >C-scrRNA</text>
<text x="348.3" y="478.5" font-size="7.3" fill="#231f20" text-anchor="end" textLength="31.5" lengthAdjust="spacingAndGlyphs" transform="rotate(-45 348.3 478.5)" stroke="#231f20" stroke-width="0.2" >C-miR146a</text>
<line x1="224.4" y1="504.5" x2="264.8" y2="504.5" stroke="#333" stroke-width="1" />
<line x1="290.9" y1="504.5" x2="331.3" y2="504.5" stroke="#333" stroke-width="1" />
<text x="245.2" y="516.8" font-size="7" fill="#231f20" text-anchor="middle" textLength="9.4" lengthAdjust="spacingAndGlyphs" stroke="#231f20" stroke-width="0.2" >WT</text>
<text x="294.6" y="516.9" font-size="7.5" fill="#231f20" textLength="27" lengthAdjust="spacingAndGlyphs" stroke="#231f20" stroke-width="0.2" >miR-146a</text>
<text x="322" y="513.9" font-size="4" fill="#777" stroke="#777" stroke-width="0.2" >fl/fl</text>
<text x="7.01" y="536.4" font-size="11.8" fill="#000" font-weight="bold" stroke="#000" stroke-width="0.25">I</text>
<line x1="53.5" y1="541.5" x2="53.5" y2="609.2" stroke="#231f20" stroke-width="1" />
<line x1="50.5" y1="609.5" x2="53.5" y2="609.5" stroke="#231f20" stroke-width="1" />
<text x="47.4" y="612.15" font-size="6.82" fill="#2a2a2a" text-anchor="end" stroke="#2a2a2a" stroke-width="0.3" >0</text>
<line x1="50.5" y1="586.5" x2="53.5" y2="586.5" stroke="#231f20" stroke-width="1" />
<text x="47.4" y="589.85" font-size="6.82" fill="#2a2a2a" text-anchor="end" stroke="#2a2a2a" stroke-width="0.3" >20</text>
<line x1="50.5" y1="564.5" x2="53.5" y2="564.5" stroke="#231f20" stroke-width="1" />
<text x="47.4" y="567.55" font-size="6.82" fill="#2a2a2a" text-anchor="end" stroke="#2a2a2a" stroke-width="0.3" >40</text>
<line x1="50.5" y1="542.5" x2="53.5" y2="542.5" stroke="#231f20" stroke-width="1" />
<text x="47.4" y="545.25" font-size="6.82" fill="#2a2a2a" text-anchor="end" stroke="#2a2a2a" stroke-width="0.3" >60</text>
<text x="35" y="574.25" font-size="8.5" fill="#2a2a2a" text-anchor="middle" textLength="35.4" lengthAdjust="spacingAndGlyphs" transform="rotate(-90 35 574.25)" stroke="#2a2a2a" stroke-width="0.2" >IL-6 (pg/ml)</text>
<line x1="53" y1="597.5" x2="165.5" y2="597.5" stroke="#333" stroke-width="1.2" stroke-dasharray="3,2"/>
<circle cx="59.5" cy="606.3" r="1.6" fill="#4b5167" stroke="none" stroke-width="0"/>
<circle cx="62.5" cy="605" r="1.6" fill="#4b5167" stroke="none" stroke-width="0"/>
<circle cx="65.5" cy="606.1" r="1.6" fill="#4b5167" stroke="none" stroke-width="0"/>
<circle cx="67.5" cy="604.3" r="1.6" fill="#4b5167" stroke="none" stroke-width="0"/>
<circle cx="69.5" cy="606" r="1.6" fill="#4b5167" stroke="none" stroke-width="0"/>
<circle cx="72.5" cy="605.2" r="1.6" fill="#4b5167" stroke="none" stroke-width="0"/>
<circle cx="75.5" cy="606.2" r="1.6" fill="#4b5167" stroke="none" stroke-width="0"/>
<circle cx="64.5" cy="607.3" r="1.6" fill="#4b5167" stroke="none" stroke-width="0"/>
<circle cx="70.5" cy="607" r="1.6" fill="#4b5167" stroke="none" stroke-width="0"/>
<circle cx="67.5" cy="606.6" r="1.6" fill="#4b5167" stroke="none" stroke-width="0"/>
<line x1="67.5" y1="603.5" x2="67.5" y2="608" stroke="#231f20" stroke-width="1" />
<line x1="58" y1="606.5" x2="77" y2="606.5" stroke="#231f20" stroke-width="1" />
<rect x="86.8" y="605" width="3" height="3" fill="#c8c6cc" stroke="none" stroke-width="0"/>
<rect x="89.8" y="603.9" width="3" height="3" fill="#c8c6cc" stroke="none" stroke-width="0"/>
<rect x="92.8" y="604.8" width="3" height="3" fill="#c8c6cc" stroke="none" stroke-width="0"/>
<rect x="94.8" y="602.5" width="3" height="3" fill="#c8c6cc" stroke="none" stroke-width="0"/>
<rect x="96.8" y="604.7" width="3" height="3" fill="#c8c6cc" stroke="none" stroke-width="0"/>
<rect x="99.8" y="603.7" width="3" height="3" fill="#c8c6cc" stroke="none" stroke-width="0"/>
<rect x="102.8" y="604.9" width="3" height="3" fill="#c8c6cc" stroke="none" stroke-width="0"/>
<rect x="91.8" y="605.7" width="3" height="3" fill="#c8c6cc" stroke="none" stroke-width="0"/>
<rect x="97.8" y="605.9" width="3" height="3" fill="#c8c6cc" stroke="none" stroke-width="0"/>
<rect x="94.8" y="605.3" width="3" height="3" fill="#c8c6cc" stroke="none" stroke-width="0"/>
<line x1="96.5" y1="603.5" x2="96.5" y2="608" stroke="#999" stroke-width="1" />
<line x1="87" y1="606.5" x2="106" y2="606.5" stroke="#aaa" stroke-width="1" />
<line x1="124.5" y1="566.3" x2="124.5" y2="586.5" stroke="#231f20" stroke-width="1" />
<line x1="120" y1="566.5" x2="128.6" y2="566.5" stroke="#231f20" stroke-width="1" />
<line x1="120" y1="586.5" x2="128.6" y2="586.5" stroke="#231f20" stroke-width="1" />
<polygon points="124.3,553.16 126.14,556.36 122.46,556.36" fill="#69b13f" stroke="none" stroke-width="0"/>
<polygon points="117.5,573.16 119.34,576.36 115.66,576.36" fill="#69b13f" stroke="none" stroke-width="0"/>
<polygon points="129.5,571.16 131.34,574.36 127.66,574.36" fill="#69b13f" stroke="none" stroke-width="0"/>
<polygon points="120,576.16 121.84,579.36 118.16,579.36" fill="#69b13f" stroke="none" stroke-width="0"/>
<polygon points="129.5,576.16 131.34,579.36 127.66,579.36" fill="#69b13f" stroke="none" stroke-width="0"/>
<polygon points="124.3,580.16 126.14,583.36 122.46,583.36" fill="#69b13f" stroke="none" stroke-width="0"/>
<polygon points="124.3,588.96 126.14,592.16 122.46,592.16" fill="#69b13f" stroke="none" stroke-width="0"/>
<line x1="115.5" y1="576.5" x2="133.8" y2="576.5" stroke="#231f20" stroke-width="1" />
<line x1="152.5" y1="602" x2="152.5" y2="608" stroke="#231f20" stroke-width="1" />
<line x1="149" y1="602.5" x2="156" y2="602.5" stroke="#231f20" stroke-width="1" />
<polygon points="157.5,601.34 159.34,598.14 155.66,598.14" fill="#aa0d33" stroke="none" stroke-width="0"/>
<polygon points="148.8,603.84 150.64,600.64 146.96,600.64" fill="#aa0d33" stroke="none" stroke-width="0"/>
<polygon points="154.5,604.34 156.34,601.14 152.66,601.14" fill="#aa0d33" stroke="none" stroke-width="0"/>
<polygon points="146,606.84 147.84,603.64 144.16,603.64" fill="#aa0d33" stroke="none" stroke-width="0"/>
<polygon points="150,607.84 151.84,604.64 148.16,604.64" fill="#aa0d33" stroke="none" stroke-width="0"/>
<polygon points="156,607.34 157.84,604.14 154.16,604.14" fill="#aa0d33" stroke="none" stroke-width="0"/>
<polygon points="159,608.34 160.84,605.14 157.16,605.14" fill="#aa0d33" stroke="none" stroke-width="0"/>
<polygon points="152.5,609.34 154.34,606.14 150.66,606.14" fill="#aa0d33" stroke="none" stroke-width="0"/>
<polygon points="148,609.64 149.84,606.44 146.16,606.44" fill="#aa0d33" stroke="none" stroke-width="0"/>
<polygon points="155,609.84 156.84,606.64 153.16,606.64" fill="#aa0d33" stroke="none" stroke-width="0"/>
<line x1="144.5" y1="605.5" x2="162" y2="605.5" stroke="#231f20" stroke-width="1" />
<line x1="128.8" y1="552.5" x2="153.3" y2="552.5" stroke="#333" stroke-width="1" />
<circle cx="137.85" cy="549.2" r="1" fill="#2a2a2a"/>
<circle cx="141.05" cy="549.2" r="1" fill="#2a2a2a"/>
<circle cx="144.25" cy="549.2" r="1" fill="#2a2a2a"/>
<line x1="52.6" y1="609.5" x2="167.5" y2="609.5" stroke="#231f20" stroke-width="1" />
<line x1="67.5" y1="609.3" x2="67.5" y2="611.8" stroke="#231f20" stroke-width="1" />
<line x1="96.5" y1="609.3" x2="96.5" y2="611.8" stroke="#231f20" stroke-width="1" />
<line x1="124.5" y1="609.3" x2="124.5" y2="611.8" stroke="#231f20" stroke-width="1" />
<line x1="152.5" y1="609.3" x2="152.5" y2="611.8" stroke="#231f20" stroke-width="1" />
<text x="71.7" y="619.5" font-size="7.3" fill="#231f20" text-anchor="end" textLength="28.5" lengthAdjust="spacingAndGlyphs" transform="rotate(-45 71.7 619.5)" stroke="#231f20" stroke-width="0.2" >C-scrRNA</text>
<text x="100.5" y="619.5" font-size="7.3" fill="#231f20" text-anchor="end" textLength="31.5" lengthAdjust="spacingAndGlyphs" transform="rotate(-45 100.5 619.5)" stroke="#231f20" stroke-width="0.2" >C-miR146a</text>
<text x="128.5" y="619.5" font-size="7.3" fill="#231f20" text-anchor="end" textLength="28.5" lengthAdjust="spacingAndGlyphs" transform="rotate(-45 128.5 619.5)" stroke="#231f20" stroke-width="0.2" >C-scrRNA</text>
<text x="156.7" y="619.5" font-size="7.3" fill="#231f20" text-anchor="end" textLength="31.5" lengthAdjust="spacingAndGlyphs" transform="rotate(-45 156.7 619.5)" stroke="#231f20" stroke-width="0.2" >C-miR146a</text>
<line x1="48.1" y1="645.5" x2="89.8" y2="645.5" stroke="#333" stroke-width="1" />
<line x1="99.8" y1="645.5" x2="141.8" y2="645.5" stroke="#333" stroke-width="1" />
<text x="68.3" y="657.5" font-size="7" fill="#231f20" text-anchor="middle" textLength="9.4" lengthAdjust="spacingAndGlyphs" stroke="#231f20" stroke-width="0.2" >WT</text>
<text x="104" y="657.4" font-size="7.5" fill="#231f20" textLength="27" lengthAdjust="spacingAndGlyphs" stroke="#231f20" stroke-width="0.2" >miR-146a</text>
<text x="131.4" y="654.4" font-size="4" fill="#777" stroke="#777" stroke-width="0.2" >fl/fl</text>
<text x="182.62" y="537" font-size="11.8" fill="#000" font-weight="bold" stroke="#000" stroke-width="0.25">J</text>
<line x1="214.5" y1="539.5" x2="214.5" y2="633.2" stroke="#231f20" stroke-width="1" />
<line x1="211.3" y1="633.5" x2="214.3" y2="633.5" stroke="#231f20" stroke-width="1" />
<text x="208.8" y="636.15" font-size="6.82" fill="#2a2a2a" text-anchor="end" stroke="#2a2a2a" stroke-width="0.3" >0</text>
<line x1="211.3" y1="610.5" x2="214.3" y2="610.5" stroke="#231f20" stroke-width="1" />
<text x="208.8" y="613.05" font-size="6.82" fill="#2a2a2a" text-anchor="end" stroke="#2a2a2a" stroke-width="0.3" >20</text>
<line x1="211.3" y1="587.5" x2="214.3" y2="587.5" stroke="#231f20" stroke-width="1" />
<text x="208.8" y="589.95" font-size="6.82" fill="#2a2a2a" text-anchor="end" stroke="#2a2a2a" stroke-width="0.3" >40</text>
<line x1="211.3" y1="563.5" x2="214.3" y2="563.5" stroke="#231f20" stroke-width="1" />
<text x="208.8" y="566.85" font-size="6.82" fill="#2a2a2a" text-anchor="end" stroke="#2a2a2a" stroke-width="0.3" >60</text>
<line x1="211.3" y1="540.5" x2="214.3" y2="540.5" stroke="#231f20" stroke-width="1" />
<text x="208.8" y="543.75" font-size="6.82" fill="#2a2a2a" text-anchor="end" stroke="#2a2a2a" stroke-width="0.3" >80</text>
<text x="196.5" y="585.4" font-size="9" fill="#2a2a2a" text-anchor="middle" textLength="52.3" lengthAdjust="spacingAndGlyphs" transform="rotate(-90 196.5 585.4)" stroke="#2a2a2a" stroke-width="0.2" >% of CD45+ cells</text>
<rect x="218.25" y="582.96" width="4.6" height="50.24" fill="#4b5167" stroke="#3a3f55" stroke-width="0.5"/>
<line x1="220.5" y1="581.46" x2="220.5" y2="584.46" stroke="#231f20" stroke-width="0.9" />
<line x1="218.95" y1="581.5" x2="222.15" y2="581.5" stroke="#231f20" stroke-width="0.9" />
<line x1="218.95" y1="584.5" x2="222.15" y2="584.5" stroke="#231f20" stroke-width="0.9" />
<rect x="224.15" y="588.73" width="4.6" height="44.47" fill="#c8c6cc" stroke="#b8b6bd" stroke-width="0.5"/>
<line x1="226.5" y1="584.69" x2="226.5" y2="592.78" stroke="#231f20" stroke-width="0.9" />
<line x1="224.85" y1="584.5" x2="228.05" y2="584.5" stroke="#231f20" stroke-width="0.9" />
<line x1="224.85" y1="592.5" x2="228.05" y2="592.5" stroke="#231f20" stroke-width="0.9" />
<rect x="230.05" y="560.9" width="4.6" height="72.3" fill="#69b13f" stroke="#58a032" stroke-width="0.5"/>
<line x1="232.5" y1="557.66" x2="232.5" y2="564.13" stroke="#231f20" stroke-width="0.9" />
<line x1="230.75" y1="557.5" x2="233.95" y2="557.5" stroke="#231f20" stroke-width="0.9" />
<line x1="230.75" y1="564.5" x2="233.95" y2="564.5" stroke="#231f20" stroke-width="0.9" />
<rect x="235.95" y="582.5" width="4.6" height="50.7" fill="#aa0d33" stroke="#8e0626" stroke-width="0.5"/>
<line x1="238.5" y1="577.53" x2="238.5" y2="587.46" stroke="#231f20" stroke-width="0.9" />
<line x1="236.65" y1="577.5" x2="239.85" y2="577.5" stroke="#231f20" stroke-width="0.9" />
<line x1="236.65" y1="587.5" x2="239.85" y2="587.5" stroke="#231f20" stroke-width="0.9" />
<rect x="249.9" y="625.92" width="4.6" height="7.28" fill="#4b5167" stroke="#3a3f55" stroke-width="0.5"/>
<line x1="252.5" y1="623.61" x2="252.5" y2="628.23" stroke="#231f20" stroke-width="0.9" />
<line x1="250.6" y1="623.5" x2="253.8" y2="623.5" stroke="#231f20" stroke-width="0.9" />
<line x1="250.6" y1="628.5" x2="253.8" y2="628.5" stroke="#231f20" stroke-width="0.9" />
<rect x="255.8" y="626.27" width="4.6" height="6.93" fill="#c8c6cc" stroke="#b8b6bd" stroke-width="0.5"/>
<line x1="258.5" y1="624.88" x2="258.5" y2="627.66" stroke="#231f20" stroke-width="0.9" />
<line x1="256.5" y1="624.5" x2="259.7" y2="624.5" stroke="#231f20" stroke-width="0.9" />
<line x1="256.5" y1="627.5" x2="259.7" y2="627.5" stroke="#231f20" stroke-width="0.9" />
<rect x="261.7" y="617.03" width="4.6" height="16.17" fill="#69b13f" stroke="#58a032" stroke-width="0.5"/>
<line x1="264.5" y1="615.3" x2="264.5" y2="618.76" stroke="#231f20" stroke-width="0.9" />
<line x1="262.4" y1="615.5" x2="265.6" y2="615.5" stroke="#231f20" stroke-width="0.9" />
<line x1="262.4" y1="618.5" x2="265.6" y2="618.5" stroke="#231f20" stroke-width="0.9" />
<rect x="267.6" y="623.04" width="4.6" height="10.16" fill="#aa0d33" stroke="#8e0626" stroke-width="0.5"/>
<line x1="269.5" y1="621.88" x2="269.5" y2="624.19" stroke="#231f20" stroke-width="0.9" />
<line x1="268.3" y1="621.5" x2="271.5" y2="621.5" stroke="#231f20" stroke-width="0.9" />
<line x1="268.3" y1="624.5" x2="271.5" y2="624.5" stroke="#231f20" stroke-width="0.9" />
<rect x="281.55" y="595.89" width="4.6" height="37.31" fill="#4b5167" stroke="#3a3f55" stroke-width="0.5"/>
<line x1="283.5" y1="593.81" x2="283.5" y2="597.97" stroke="#231f20" stroke-width="0.9" />
<line x1="282.25" y1="593.5" x2="285.45" y2="593.5" stroke="#231f20" stroke-width="0.9" />
<line x1="282.25" y1="597.5" x2="285.45" y2="597.5" stroke="#231f20" stroke-width="0.9" />
<rect x="287.45" y="607.44" width="4.6" height="25.76" fill="#c8c6cc" stroke="#b8b6bd" stroke-width="0.5"/>
<line x1="289.5" y1="606.29" x2="289.5" y2="608.6" stroke="#231f20" stroke-width="0.9" />
<line x1="288.15" y1="606.5" x2="291.35" y2="606.5" stroke="#231f20" stroke-width="0.9" />
<line x1="288.15" y1="608.5" x2="291.35" y2="608.5" stroke="#231f20" stroke-width="0.9" />
<rect x="293.35" y="583.65" width="4.6" height="49.55" fill="#69b13f" stroke="#58a032" stroke-width="0.5"/>
<line x1="295.5" y1="579.95" x2="295.5" y2="587.35" stroke="#231f20" stroke-width="0.9" />
<line x1="294.05" y1="579.5" x2="297.25" y2="579.5" stroke="#231f20" stroke-width="0.9" />
<line x1="294.05" y1="587.5" x2="297.25" y2="587.5" stroke="#231f20" stroke-width="0.9" />
<rect x="299.25" y="602.02" width="4.6" height="31.18" fill="#aa0d33" stroke="#8e0626" stroke-width="0.5"/>
<line x1="301.5" y1="597.05" x2="301.5" y2="606.98" stroke="#231f20" stroke-width="0.9" />
<line x1="299.95" y1="597.5" x2="303.15" y2="597.5" stroke="#231f20" stroke-width="0.9" />
<line x1="299.95" y1="606.5" x2="303.15" y2="606.5" stroke="#231f20" stroke-width="0.9" />
<rect x="313.2" y="596.24" width="4.6" height="36.96" fill="#4b5167" stroke="#3a3f55" stroke-width="0.5"/>
<line x1="315.5" y1="593.24" x2="315.5" y2="599.24" stroke="#231f20" stroke-width="0.9" />
<line x1="313.9" y1="593.5" x2="317.1" y2="593.5" stroke="#231f20" stroke-width="0.9" />
<line x1="313.9" y1="599.5" x2="317.1" y2="599.5" stroke="#231f20" stroke-width="0.9" />
<rect x="319.1" y="594.62" width="4.6" height="38.58" fill="#c8c6cc" stroke="#b8b6bd" stroke-width="0.5"/>
<line x1="321.5" y1="589.54" x2="321.5" y2="599.71" stroke="#231f20" stroke-width="0.9" />
<line x1="319.8" y1="589.5" x2="323" y2="589.5" stroke="#231f20" stroke-width="0.9" />
<line x1="319.8" y1="599.5" x2="323" y2="599.5" stroke="#231f20" stroke-width="0.9" />
<rect x="325" y="605.48" width="4.6" height="27.72" fill="#69b13f" stroke="#58a032" stroke-width="0.5"/>
<line x1="327.5" y1="602.59" x2="327.5" y2="608.37" stroke="#231f20" stroke-width="0.9" />
<line x1="325.7" y1="602.5" x2="328.9" y2="602.5" stroke="#231f20" stroke-width="0.9" />
<line x1="325.7" y1="608.5" x2="328.9" y2="608.5" stroke="#231f20" stroke-width="0.9" />
<rect x="330.9" y="594.62" width="4.6" height="38.58" fill="#aa0d33" stroke="#8e0626" stroke-width="0.5"/>
<line x1="333.5" y1="592.54" x2="333.5" y2="596.7" stroke="#231f20" stroke-width="0.9" />
<line x1="331.6" y1="592.5" x2="334.8" y2="592.5" stroke="#231f20" stroke-width="0.9" />
<line x1="331.6" y1="596.5" x2="334.8" y2="596.5" stroke="#231f20" stroke-width="0.9" />
<rect x="344.85" y="608.83" width="4.6" height="24.37" fill="#4b5167" stroke="#3a3f55" stroke-width="0.5"/>
<line x1="347.5" y1="607.44" x2="347.5" y2="610.22" stroke="#231f20" stroke-width="0.9" />
<line x1="345.55" y1="607.5" x2="348.75" y2="607.5" stroke="#231f20" stroke-width="0.9" />
<line x1="345.55" y1="610.5" x2="348.75" y2="610.5" stroke="#231f20" stroke-width="0.9" />
<rect x="350.75" y="603.52" width="4.6" height="29.68" fill="#c8c6cc" stroke="#b8b6bd" stroke-width="0.5"/>
<line x1="353.5" y1="602.13" x2="353.5" y2="604.9" stroke="#231f20" stroke-width="0.9" />
<line x1="351.45" y1="602.5" x2="354.65" y2="602.5" stroke="#231f20" stroke-width="0.9" />
<line x1="351.45" y1="604.5" x2="354.65" y2="604.5" stroke="#231f20" stroke-width="0.9" />
<rect x="356.65" y="617.84" width="4.6" height="15.36" fill="#69b13f" stroke="#58a032" stroke-width="0.5"/>
<line x1="358.5" y1="616.68" x2="358.5" y2="618.99" stroke="#231f20" stroke-width="0.9" />
<line x1="357.35" y1="616.5" x2="360.55" y2="616.5" stroke="#231f20" stroke-width="0.9" />
<line x1="357.35" y1="618.5" x2="360.55" y2="618.5" stroke="#231f20" stroke-width="0.9" />
<rect x="362.55" y="613.1" width="4.6" height="20.1" fill="#aa0d33" stroke="#8e0626" stroke-width="0.5"/>
<line x1="364.5" y1="611.72" x2="364.5" y2="614.49" stroke="#231f20" stroke-width="0.9" />
<line x1="363.25" y1="611.5" x2="366.45" y2="611.5" stroke="#231f20" stroke-width="0.9" />
<line x1="363.25" y1="614.5" x2="366.45" y2="614.5" stroke="#231f20" stroke-width="0.9" />
<line x1="214" y1="633.5" x2="370.5" y2="633.5" stroke="#231f20" stroke-width="1" />
<line x1="229.5" y1="633.2" x2="229.5" y2="635.7" stroke="#231f20" stroke-width="1" />
<line x1="261.5" y1="633.2" x2="261.5" y2="635.7" stroke="#231f20" stroke-width="1" />
<line x1="292.5" y1="633.2" x2="292.5" y2="635.7" stroke="#231f20" stroke-width="1" />
<line x1="324.5" y1="633.2" x2="324.5" y2="635.7" stroke="#231f20" stroke-width="1" />
<line x1="356.5" y1="633.2" x2="356.5" y2="635.7" stroke="#231f20" stroke-width="1" />
<line x1="229.7" y1="552.5" x2="238.2" y2="552.5" stroke="#333" stroke-width="1" />
<circle cx="230.75" cy="549.2" r="1" fill="#2a2a2a"/>
<circle cx="233.95" cy="549.2" r="1" fill="#2a2a2a"/>
<circle cx="237.15" cy="549.2" r="1" fill="#2a2a2a"/>
<line x1="280.6" y1="590.5" x2="289.2" y2="590.5" stroke="#333" stroke-width="1" />
<circle cx="284.9" cy="587.2" r="1" fill="#2a2a2a"/>
<line x1="294.6" y1="573.5" x2="303.7" y2="573.5" stroke="#333" stroke-width="1" />
<circle cx="295.95" cy="570.2" r="1" fill="#2a2a2a"/>
<circle cx="299.15" cy="570.2" r="1" fill="#2a2a2a"/>
<circle cx="302.35" cy="570.2" r="1" fill="#2a2a2a"/>
<line x1="327.3" y1="588.5" x2="335.8" y2="588.5" stroke="#333" stroke-width="1" />
<circle cx="331.55" cy="585.2" r="1" fill="#2a2a2a"/>
<text x="231.9" y="643.5" font-size="7" fill="#231f20" text-anchor="end" textLength="20.5" lengthAdjust="spacingAndGlyphs" transform="rotate(-45 231.9 643.5)" stroke="#231f20" stroke-width="0.2" >CD11b</text>
<text x="263.55" y="643.5" font-size="7" fill="#231f20" text-anchor="end" textLength="22" lengthAdjust="spacingAndGlyphs" transform="rotate(-45 263.55 643.5)" stroke="#231f20" stroke-width="0.2" >CD11c</text>
<text x="295.2" y="643.5" font-size="7" fill="#231f20" text-anchor="end" textLength="13.5" lengthAdjust="spacingAndGlyphs" transform="rotate(-45 295.2 643.5)" stroke="#231f20" stroke-width="0.2" >Gr-1</text>
<text x="326.85" y="643.5" font-size="7" fill="#231f20" text-anchor="end" textLength="17.8" lengthAdjust="spacingAndGlyphs" transform="rotate(-45 326.85 643.5)" stroke="#231f20" stroke-width="0.2" >CD19</text>
<text x="358.5" y="643.5" font-size="7" fill="#231f20" text-anchor="end" textLength="15" lengthAdjust="spacingAndGlyphs" transform="rotate(-45 358.5 643.5)" stroke="#231f20" stroke-width="0.2" >CD3</text>
<rect x="374.8" y="538.4" width="13.5" height="6" fill="#4b5167" stroke="#3a3f55" stroke-width="0.5"/>
<rect x="374.8" y="548.6" width="13.5" height="6" fill="#c8c6cc" stroke="#b8b6bd" stroke-width="0.5"/>
<rect x="374.8" y="558.7" width="13.5" height="6" fill="#69b13f" stroke="#58a032" stroke-width="0.5"/>
<rect x="374.8" y="568.8" width="13.5" height="6" fill="#aa0d33" stroke="#8e0626" stroke-width="0.5"/>
<text x="390.8" y="543.8" font-size="7.5" fill="#231f20" textLength="28.8" lengthAdjust="spacingAndGlyphs" stroke="#231f20" stroke-width="0.2" >C-scrRNA</text>
<text x="390.8" y="553.9" font-size="7.5" fill="#231f20" textLength="32.1" lengthAdjust="spacingAndGlyphs" stroke="#231f20" stroke-width="0.2" >C-miR146a</text>
<text x="390.8" y="564" font-size="7.5" fill="#231f20" textLength="28.8" lengthAdjust="spacingAndGlyphs" stroke="#231f20" stroke-width="0.2" >C-scrRNA</text>
<text x="390.8" y="574.1" font-size="7.5" fill="#231f20" textLength="32.1" lengthAdjust="spacingAndGlyphs" stroke="#231f20" stroke-width="0.2" >C-miR146a</text>
<line x1="429.5" y1="538" x2="429.5" y2="553" stroke="#333" stroke-width="1" />
<line x1="429.5" y1="558.5" x2="429.5" y2="573.8" stroke="#333" stroke-width="1" />
<text x="431.9" y="548" font-size="7.5" fill="#231f20" textLength="10.2" lengthAdjust="spacingAndGlyphs" stroke="#231f20" stroke-width="0.2" >WT</text>
<text x="432.2" y="569.2" font-size="7.5" fill="#231f20" textLength="27.5" lengthAdjust="spacingAndGlyphs" stroke="#231f20" stroke-width="0.2" >miR-146a</text>
<text x="460.1" y="566.2" font-size="4" fill="#777" stroke="#777" stroke-width="0.2" >fl/fl</text>
</svg></div></body></html>
